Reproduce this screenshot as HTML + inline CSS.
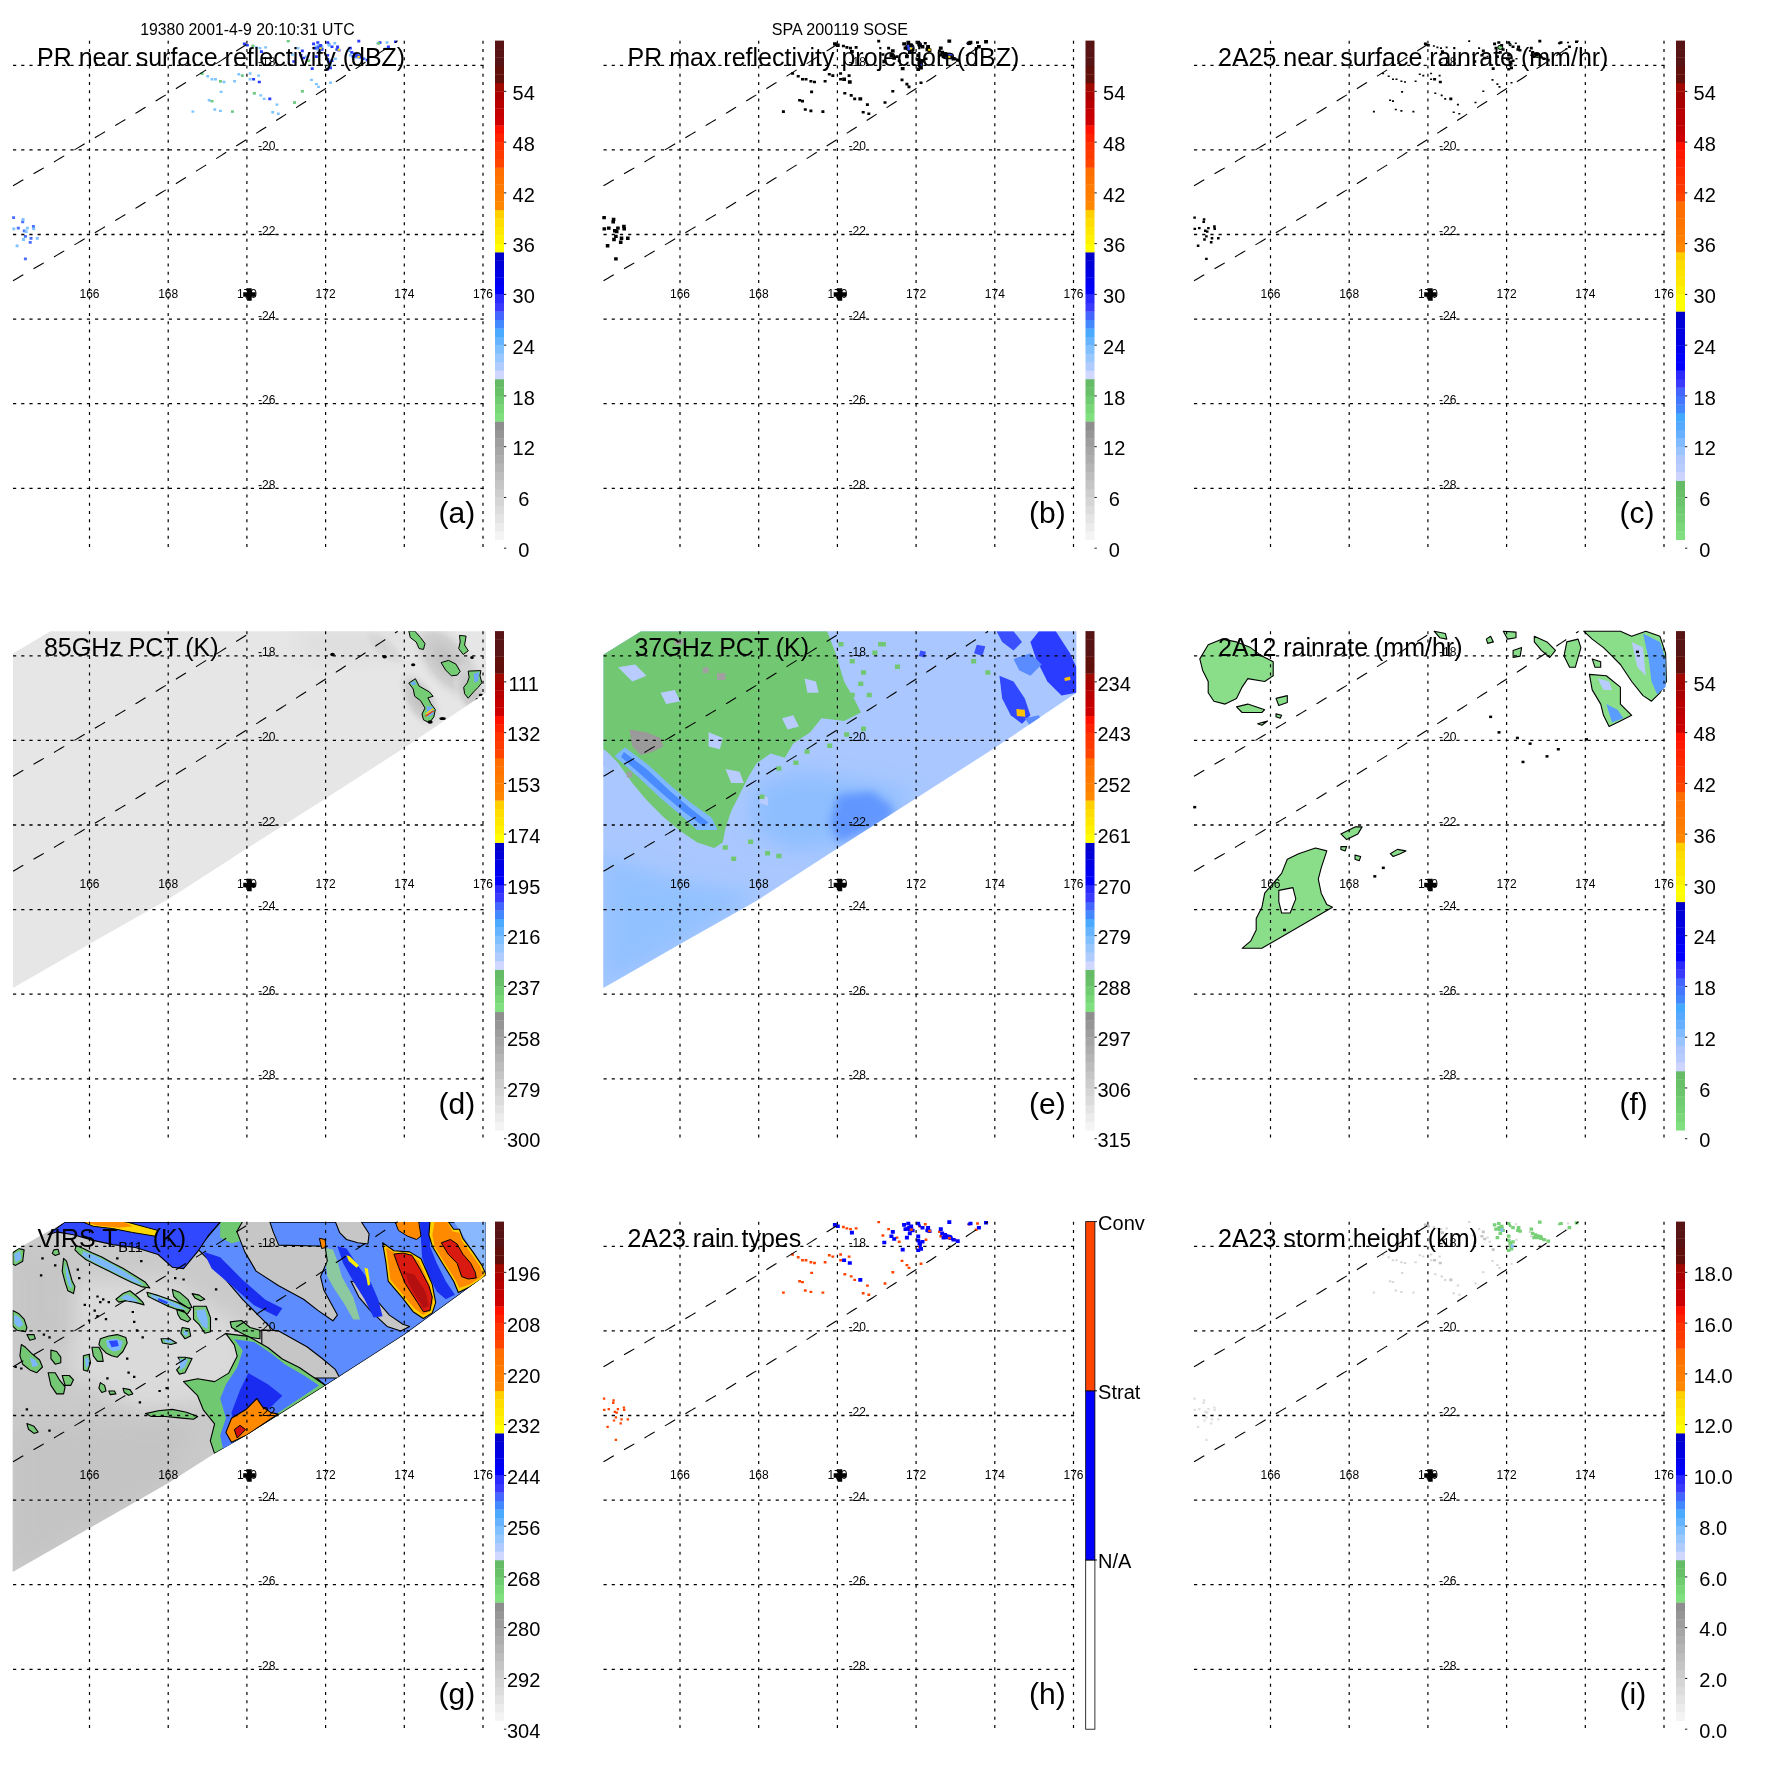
<!DOCTYPE html><html><head><meta charset="utf-8"><style>html,body{margin:0;padding:0;background:#fff;overflow:hidden}svg{display:block;will-change:transform}text{font-family:"Liberation Sans", sans-serif;fill:#000}.gv{stroke:#000;stroke-width:1.2;stroke-dasharray:3 5.25;fill:none}.gh{stroke:#000;stroke-width:1.3;stroke-dasharray:3.2 5.0;fill:none}.sw{stroke:#000;stroke-width:1.1;stroke-dasharray:11.9 11.8;fill:none}</style></head><body>
<svg width="1771" height="1771" viewBox="0 0 1771 1771">
<rect width="1771" height="1771" fill="#fff"/>
<defs><filter id="bl" x="-20%" y="-20%" width="140%" height="140%"><feGaussianBlur stdDeviation="10"/></filter><filter id="bl2" x="-20%" y="-20%" width="140%" height="140%"><feGaussianBlur stdDeviation="4"/></filter></defs>
<text x="247.4" y="35.1" font-size="15.8" text-anchor="middle">19380 2001-4-9 20:10:31 UTC</text>
<text x="839.9" y="34.8" font-size="16.1" text-anchor="middle">SPA 200119 SOSE</text>
<ellipse cx="319.3" cy="47.4" rx="4.2" ry="3.5" fill="#80bfff"/>
<ellipse cx="329.8" cy="63.6" rx="2.1" ry="4.2" fill="#80bfff"/>
<ellipse cx="357.4" cy="55.9" rx="5.6" ry="2.8" fill="#80bfff"/>
<ellipse cx="329.1" cy="44.6" rx="1.8" ry="2.1" fill="#80bfff"/>
<ellipse cx="337.6" cy="48.8" rx="1.8" ry="1.8" fill="#80bfff"/>
<ellipse cx="378.5" cy="43.2" rx="2.1" ry="1.4" fill="#80bfff"/>
<ellipse cx="319.3" cy="47.4" rx="2.3" ry="1.9" fill="#3048ff"/>
<ellipse cx="329.8" cy="63.6" rx="1.2" ry="2.3" fill="#3048ff"/>
<ellipse cx="357.4" cy="55.9" rx="3.1" ry="1.6" fill="#3048ff"/>
<ellipse cx="329.1" cy="44.6" rx="1.0" ry="1.2" fill="#3048ff"/>
<ellipse cx="337.6" cy="48.8" rx="1.0" ry="1.0" fill="#3048ff"/>
<ellipse cx="378.5" cy="43.2" rx="1.2" ry="0.8" fill="#3048ff"/>
<path d="M200.7,72.3h2.8v2.4h-2.8z M206.3,75.1h2.8v2.4h-2.8z M210.6,78.0h2.8v2.4h-2.8z M214.1,78.0h2.8v2.4h-2.8z M219.0,80.1h2.8v2.4h-2.8z M222.6,80.8h2.8v2.4h-2.8z M233.2,80.1h2.8v2.4h-2.8z M237.4,73.0h2.8v2.4h-2.8z M240.9,74.4h2.8v2.4h-2.8z M248.7,72.3h2.8v2.4h-2.8z M248.7,78.0h2.8v2.4h-2.8z M257.2,74.4h2.8v2.4h-2.8z M251.5,44.8h2.8v2.4h-2.8z M255.0,46.2h2.8v2.4h-2.8z M258.6,46.9h2.8v2.4h-2.8z M264.2,46.2h2.8v2.4h-2.8z M286.8,39.9h2.8v2.4h-2.8z M296.7,46.9h2.8v2.4h-2.8z M291.0,53.3h2.8v2.4h-2.8z M305.1,55.4h2.8v2.4h-2.8z M307.3,59.6h2.8v2.4h-2.8z M310.1,78.7h2.8v2.4h-2.8z M315.0,82.9h2.8v2.4h-2.8z M317.1,85.7h2.8v2.4h-2.8z M300.9,90.0h2.8v2.4h-2.8z M329.1,81.5h2.8v2.4h-2.8z M333.4,42.0h2.8v2.4h-2.8z M334.1,57.5h2.8v2.4h-2.8z M252.9,92.1h2.8v2.4h-2.8z M259.3,94.2h2.8v2.4h-2.8z M262.8,97.7h2.8v2.4h-2.8z M275.5,103.4h2.8v2.4h-2.8z M293.1,101.3h2.8v2.4h-2.8z M271.3,111.1h2.8v2.4h-2.8z M276.9,112.6h2.8v2.4h-2.8z M207.7,99.1h2.8v2.4h-2.8z M210.6,99.9h2.8v2.4h-2.8z M213.4,108.3h2.8v2.4h-2.8z M219.0,109.7h2.8v2.4h-2.8z M191.5,110.4h2.8v2.4h-2.8z M231.0,110.4h2.8v2.4h-2.8z M219.7,90.7h2.8v2.4h-2.8z M347.5,49.7h2.8v2.4h-2.8z M360.2,56.8h2.8v2.4h-2.8z M377.1,42.0h2.8v2.4h-2.8z M385.6,41.3h2.8v2.4h-2.8z M384.2,47.6h2.8v2.4h-2.8z M327.7,44.1h2.8v2.4h-2.8z M327.7,64.6h2.8v2.4h-2.8z M348.9,54.0h2.8v2.4h-2.8z M363.0,57.5h2.8v2.4h-2.8z" fill="#7ec4ff"/>
<path d="M242.9,42.6h3.0v2.6h-3.0z M245.8,44.0h3.0v2.6h-3.0z M259.9,50.3h3.0v2.6h-3.0z M252.1,77.9h3.0v2.6h-3.0z M257.8,80.7h3.0v2.6h-3.0z M268.3,97.6h3.0v2.6h-3.0z M292.3,60.2h3.0v2.6h-3.0z M300.8,49.6h3.0v2.6h-3.0z M299.4,53.9h3.0v2.6h-3.0z M302.2,56.7h3.0v2.6h-3.0z M310.7,67.3h3.0v2.6h-3.0z M326.2,41.2h3.0v2.6h-3.0z M330.5,45.4h3.0v2.6h-3.0z M326.2,53.9h3.0v2.6h-3.0z M314.9,55.3h3.0v2.6h-3.0z M335.4,48.2h3.0v2.6h-3.0z M357.3,39.8h3.0v2.6h-3.0z M378.5,41.2h3.0v2.6h-3.0z M386.9,45.4h3.0v2.6h-3.0z M394.0,40.5h3.0v2.6h-3.0z M348.8,46.8h3.0v2.6h-3.0z M353.0,52.5h3.0v2.6h-3.0z M365.7,58.8h3.0v2.6h-3.0z M312.1,42.6h3.0v2.6h-3.0z M316.3,41.2h3.0v2.6h-3.0z M319.2,44.0h3.0v2.6h-3.0z M320.6,48.2h3.0v2.6h-3.0z M317.8,51.1h3.0v2.6h-3.0z M313.5,46.8h3.0v2.6h-3.0z M326.2,58.1h3.0v2.6h-3.0z M327.6,60.9h3.0v2.6h-3.0z M329.0,66.6h3.0v2.6h-3.0z M326.2,68.0h3.0v2.6h-3.0z M330.5,59.5h3.0v2.6h-3.0z M350.2,51.1h3.0v2.6h-3.0z M354.5,53.9h3.0v2.6h-3.0z M358.7,56.0h3.0v2.6h-3.0z M361.5,57.4h3.0v2.6h-3.0z M351.6,55.3h3.0v2.6h-3.0z M336.1,45.4h3.0v2.6h-3.0z M337.5,48.9h3.0v2.6h-3.0z" fill="#2a3cff"/>
<path d="M12.1,216.2h3.0v2.8h-3.0z M21.2,220.5h3.0v2.8h-3.0z M16.8,226.7h3.0v2.8h-3.0z M31.9,225.1h3.0v2.8h-3.0z M22.8,229.4h3.0v2.8h-3.0z M23.9,235.0h3.0v2.8h-3.0z M29.5,236.9h3.0v2.8h-3.0z M28.7,240.9h3.0v2.8h-3.0z M23.9,257.5h3.0v2.8h-3.0z" fill="#4a70ff"/>
<path d="M21.6,218.0h3.0v2.8h-3.0z M12.3,227.5h3.0v2.8h-3.0z M25.9,226.7h3.0v2.8h-3.0z M32.2,227.5h3.0v2.8h-3.0z M24.7,230.2h3.0v2.8h-3.0z M22.0,238.1h3.0v2.8h-3.0z M35.8,236.9h3.0v2.8h-3.0z M15.6,244.4h3.0v2.8h-3.0z" fill="#80c4ff"/>
<path d="M200.7,72.3h2.8v2.4h-2.8z M219.0,80.1h2.8v2.4h-2.8z M240.9,74.4h2.8v2.4h-2.8z M251.5,44.8h2.8v2.4h-2.8z M286.8,39.9h2.8v2.4h-2.8z M307.3,59.6h2.8v2.4h-2.8z M300.9,90.0h2.8v2.4h-2.8z M252.9,92.1h2.8v2.4h-2.8z M293.1,101.3h2.8v2.4h-2.8z M210.6,99.9h2.8v2.4h-2.8z M231.0,110.4h2.8v2.4h-2.8z M377.1,42.0h2.8v2.4h-2.8z M327.7,64.6h2.8v2.4h-2.8z" fill="#70cc70"/>
<rect x="319.3" y="47.4" width="2.5" height="2" fill="#ffdd00"/>
<rect x="357.4" y="55.9" width="2.5" height="2" fill="#ffdd00"/>
<rect x="337.6" y="48.8" width="2.5" height="2" fill="#ffdd00"/>
<g transform="translate(0.00,0.00)">
<line x1="89.50" y1="40.80" x2="89.50" y2="548.50" class="gv"/>
<line x1="168.20" y1="40.80" x2="168.20" y2="548.50" class="gv"/>
<line x1="246.90" y1="40.80" x2="246.90" y2="548.50" class="gv"/>
<line x1="325.60" y1="40.80" x2="325.60" y2="548.50" class="gv"/>
<line x1="404.30" y1="40.80" x2="404.30" y2="548.50" class="gv"/>
<line x1="483.00" y1="40.80" x2="483.00" y2="548.50" class="gv"/>
<line x1="13.00" y1="65.30" x2="486.00" y2="65.30" class="gh"/>
<line x1="13.00" y1="149.90" x2="486.00" y2="149.90" class="gh"/>
<line x1="13.00" y1="234.50" x2="486.00" y2="234.50" class="gh"/>
<line x1="13.00" y1="319.10" x2="486.00" y2="319.10" class="gh"/>
<line x1="13.00" y1="403.70" x2="486.00" y2="403.70" class="gh"/>
<line x1="13.00" y1="488.30" x2="486.00" y2="488.30" class="gh"/>
<path d="M13.00,185.70 L17.00,183.40 L21.00,181.09 L25.00,178.78 L29.00,176.47 L33.00,174.15 L37.00,171.83 L41.00,169.50 L45.00,167.17 L49.00,164.84 L53.00,162.50 L57.00,160.15 L61.00,157.81 L65.00,155.46 L69.00,153.10 L73.00,150.74 L77.00,148.38 L81.00,146.01 L85.00,143.64 L89.00,141.27 L93.00,138.89 L97.00,136.50 L101.00,134.12 L105.00,131.73 L109.00,129.33 L113.00,126.93 L117.00,124.53 L121.00,122.12 L125.00,119.71 L129.00,117.29 L133.00,114.87 L137.00,112.45 L141.00,110.02 L145.00,107.59 L149.00,105.15 L153.00,102.71 L157.00,100.27 L161.00,97.82 L165.00,95.37 L169.00,92.91 L173.00,90.45 L177.00,87.98 L181.00,85.52 L185.00,83.04 L189.00,80.57 L193.00,78.09 L197.00,75.60 L201.00,73.11 L205.00,70.62 L209.00,68.12 L213.00,65.62 L217.00,63.11 L221.00,60.61 L225.00,58.09 L229.00,55.57 L233.00,53.05 L237.00,50.53 L241.00,48.00 L245.00,45.46 L249.00,42.93 L252.35,40.80" class="sw"/>
<path d="M13.00,280.70 L17.00,278.40 L21.00,276.09 L25.00,273.78 L29.00,271.47 L33.00,269.15 L37.00,266.83 L41.00,264.50 L45.00,262.17 L49.00,259.84 L53.00,257.50 L57.00,255.15 L61.00,252.81 L65.00,250.46 L69.00,248.10 L73.00,245.74 L77.00,243.38 L81.00,241.01 L85.00,238.64 L89.00,236.27 L93.00,233.89 L97.00,231.50 L101.00,229.12 L105.00,226.73 L109.00,224.33 L113.00,221.93 L117.00,219.53 L121.00,217.12 L125.00,214.71 L129.00,212.29 L133.00,209.87 L137.00,207.45 L141.00,205.02 L145.00,202.59 L149.00,200.15 L153.00,197.71 L157.00,195.27 L161.00,192.82 L165.00,190.37 L169.00,187.91 L173.00,185.45 L177.00,182.98 L181.00,180.52 L185.00,178.04 L189.00,175.57 L193.00,173.09 L197.00,170.60 L201.00,168.11 L205.00,165.62 L209.00,163.12 L213.00,160.62 L217.00,158.11 L221.00,155.61 L225.00,153.09 L229.00,150.57 L233.00,148.05 L237.00,145.53 L241.00,143.00 L245.00,140.46 L249.00,137.93 L253.00,135.38 L257.00,132.84 L261.00,130.29 L265.00,127.73 L269.00,125.18 L273.00,122.61 L277.00,120.05 L281.00,117.48 L285.00,114.90 L289.00,112.33 L293.00,109.74 L297.00,107.16 L301.00,104.57 L305.00,101.97 L309.00,99.37 L313.00,96.77 L317.00,94.16 L321.00,91.55 L325.00,88.94 L329.00,86.32 L333.00,83.70 L337.00,81.07 L341.00,78.44 L345.00,75.80 L349.00,73.16 L353.00,70.52 L357.00,67.87 L361.00,65.22 L365.00,62.56 L369.00,59.90 L373.00,57.24 L377.00,54.57 L381.00,51.90 L385.00,49.23 L389.00,46.55 L393.00,43.86 L397.00,41.17 L397.55,40.80" class="sw"/>
<text x="89.50" y="297.90" font-size="12.00" text-anchor="middle">166</text>
<text x="168.20" y="297.90" font-size="12.00" text-anchor="middle">168</text>
<text x="246.90" y="297.90" font-size="12.00" text-anchor="middle">170</text>
<text x="325.60" y="297.90" font-size="12.00" text-anchor="middle">172</text>
<text x="404.30" y="297.90" font-size="12.00" text-anchor="middle">174</text>
<text x="483.00" y="297.90" font-size="12.00" text-anchor="middle">176</text>
<text x="258.00" y="65.80" font-size="12.00" text-anchor="start">-18</text>
<text x="258.00" y="150.40" font-size="12.00" text-anchor="start">-20</text>
<text x="258.00" y="235.00" font-size="12.00" text-anchor="start">-22</text>
<text x="258.00" y="319.60" font-size="12.00" text-anchor="start">-24</text>
<text x="258.00" y="404.20" font-size="12.00" text-anchor="start">-26</text>
<text x="258.00" y="488.80" font-size="12.00" text-anchor="start">-28</text>
<path d="M243.2,292.2h12.4v4.6h-12.4z M247.1,288.3h4.6v12.4h-4.6z" fill="#000"/>
<rect x="495.00" y="531.28" width="9.00" height="8.76" fill="#f4f4f4"/>
<rect x="495.00" y="522.82" width="9.00" height="8.76" fill="#ececec"/>
<rect x="495.00" y="514.36" width="9.00" height="8.76" fill="#e4e4e4"/>
<rect x="495.00" y="505.90" width="9.00" height="8.76" fill="#dcdcdc"/>
<rect x="495.00" y="497.44" width="9.00" height="8.76" fill="#d5d5d5"/>
<rect x="495.00" y="488.98" width="9.00" height="8.76" fill="#cdcdcd"/>
<rect x="495.00" y="480.52" width="9.00" height="8.76" fill="#c5c5c5"/>
<rect x="495.00" y="472.06" width="9.00" height="8.76" fill="#bdbdbd"/>
<rect x="495.00" y="463.60" width="9.00" height="8.76" fill="#b5b5b5"/>
<rect x="495.00" y="455.14" width="9.00" height="8.76" fill="#adadad"/>
<rect x="495.00" y="446.68" width="9.00" height="8.76" fill="#a6a6a6"/>
<rect x="495.00" y="438.22" width="9.00" height="8.76" fill="#9e9e9e"/>
<rect x="495.00" y="429.76" width="9.00" height="8.76" fill="#969696"/>
<rect x="495.00" y="421.30" width="9.00" height="8.76" fill="#8e8e8e"/>
<rect x="495.00" y="412.84" width="9.00" height="8.76" fill="#80e080"/>
<rect x="495.00" y="404.38" width="9.00" height="8.76" fill="#78d878"/>
<rect x="495.00" y="395.92" width="9.00" height="8.76" fill="#70cc70"/>
<rect x="495.00" y="387.46" width="9.00" height="8.76" fill="#68c068"/>
<rect x="495.00" y="379.00" width="9.00" height="8.76" fill="#66bb66"/>
<rect x="495.00" y="370.54" width="9.00" height="8.76" fill="#d0d8ff"/>
<rect x="495.00" y="362.08" width="9.00" height="8.76" fill="#b0ccff"/>
<rect x="495.00" y="353.62" width="9.00" height="8.76" fill="#99c8ff"/>
<rect x="495.00" y="345.16" width="9.00" height="8.76" fill="#80c0ff"/>
<rect x="495.00" y="336.70" width="9.00" height="8.76" fill="#66b4ff"/>
<rect x="495.00" y="328.24" width="9.00" height="8.76" fill="#4aaaff"/>
<rect x="495.00" y="319.78" width="9.00" height="8.76" fill="#4488ff"/>
<rect x="495.00" y="311.32" width="9.00" height="8.76" fill="#4466ff"/>
<rect x="495.00" y="302.86" width="9.00" height="8.76" fill="#3a3aff"/>
<rect x="495.00" y="294.40" width="9.00" height="8.76" fill="#2a2aff"/>
<rect x="495.00" y="285.94" width="9.00" height="8.76" fill="#0000ff"/>
<rect x="495.00" y="277.48" width="9.00" height="8.76" fill="#0000f0"/>
<rect x="495.00" y="269.02" width="9.00" height="8.76" fill="#0000e4"/>
<rect x="495.00" y="260.56" width="9.00" height="8.76" fill="#0000d8"/>
<rect x="495.00" y="252.10" width="9.00" height="8.76" fill="#0000cc"/>
<rect x="495.00" y="243.64" width="9.00" height="8.76" fill="#ffff00"/>
<rect x="495.00" y="235.18" width="9.00" height="8.76" fill="#fff200"/>
<rect x="495.00" y="226.72" width="9.00" height="8.76" fill="#ffe800"/>
<rect x="495.00" y="218.26" width="9.00" height="8.76" fill="#ffdd00"/>
<rect x="495.00" y="209.80" width="9.00" height="8.76" fill="#ffd000"/>
<rect x="495.00" y="201.34" width="9.00" height="8.76" fill="#ff8800"/>
<rect x="495.00" y="192.88" width="9.00" height="8.76" fill="#ff8000"/>
<rect x="495.00" y="184.42" width="9.00" height="8.76" fill="#ff7a00"/>
<rect x="495.00" y="175.96" width="9.00" height="8.76" fill="#ff7400"/>
<rect x="495.00" y="167.50" width="9.00" height="8.76" fill="#ff6e00"/>
<rect x="495.00" y="159.04" width="9.00" height="8.76" fill="#ff4400"/>
<rect x="495.00" y="150.58" width="9.00" height="8.76" fill="#ff3a00"/>
<rect x="495.00" y="142.12" width="9.00" height="8.76" fill="#ff3300"/>
<rect x="495.00" y="133.66" width="9.00" height="8.76" fill="#ff2200"/>
<rect x="495.00" y="125.20" width="9.00" height="8.76" fill="#ff1100"/>
<rect x="495.00" y="116.74" width="9.00" height="8.76" fill="#cc0000"/>
<rect x="495.00" y="108.28" width="9.00" height="8.76" fill="#c40000"/>
<rect x="495.00" y="99.82" width="9.00" height="8.76" fill="#b80000"/>
<rect x="495.00" y="91.36" width="9.00" height="8.76" fill="#aa0000"/>
<rect x="495.00" y="82.90" width="9.00" height="8.76" fill="#a00800"/>
<rect x="495.00" y="74.44" width="9.00" height="8.76" fill="#600f0a"/>
<rect x="495.00" y="65.98" width="9.00" height="8.76" fill="#600f0a"/>
<rect x="495.00" y="57.52" width="9.00" height="8.76" fill="#581414"/>
<rect x="495.00" y="49.06" width="9.00" height="8.76" fill="#581414"/>
<rect x="495.00" y="40.60" width="9.00" height="8.76" fill="#581414"/>
<line x1="504" y1="91.36" x2="506.3" y2="91.36" stroke="#000" stroke-width="0.9"/>
<text x="523.70" y="100.06" font-size="20.00" text-anchor="middle">54</text>
<line x1="504" y1="142.12" x2="506.3" y2="142.12" stroke="#000" stroke-width="0.9"/>
<text x="523.70" y="150.82" font-size="20.00" text-anchor="middle">48</text>
<line x1="504" y1="192.88" x2="506.3" y2="192.88" stroke="#000" stroke-width="0.9"/>
<text x="523.70" y="201.58" font-size="20.00" text-anchor="middle">42</text>
<line x1="504" y1="243.64" x2="506.3" y2="243.64" stroke="#000" stroke-width="0.9"/>
<text x="523.70" y="252.34" font-size="20.00" text-anchor="middle">36</text>
<line x1="504" y1="294.40" x2="506.3" y2="294.40" stroke="#000" stroke-width="0.9"/>
<text x="523.70" y="303.10" font-size="20.00" text-anchor="middle">30</text>
<line x1="504" y1="345.16" x2="506.3" y2="345.16" stroke="#000" stroke-width="0.9"/>
<text x="523.70" y="353.86" font-size="20.00" text-anchor="middle">24</text>
<line x1="504" y1="395.92" x2="506.3" y2="395.92" stroke="#000" stroke-width="0.9"/>
<text x="523.70" y="404.62" font-size="20.00" text-anchor="middle">18</text>
<line x1="504" y1="446.68" x2="506.3" y2="446.68" stroke="#000" stroke-width="0.9"/>
<text x="523.70" y="455.38" font-size="20.00" text-anchor="middle">12</text>
<line x1="504" y1="497.44" x2="506.3" y2="497.44" stroke="#000" stroke-width="0.9"/>
<text x="523.70" y="506.14" font-size="20.00" text-anchor="middle">6</text>
<line x1="504" y1="548.20" x2="506.3" y2="548.20" stroke="#000" stroke-width="0.9"/>
<text x="523.70" y="556.90" font-size="20.00" text-anchor="middle">0</text>
<text x="37.00" y="65.70" font-size="25.00" text-anchor="start">PR near surface reflectivity (dBZ)</text>
<text x="438.50" y="523.20" font-size="30.00" text-anchor="start">(a)</text>
</g>
<ellipse cx="909.8" cy="47.4" rx="4.2" ry="3.5" fill="#3048ff" stroke="#000" stroke-width="1.1"/>
<ellipse cx="920.3" cy="63.6" rx="2.1" ry="4.2" fill="#3048ff" stroke="#000" stroke-width="1.1"/>
<ellipse cx="947.9" cy="55.9" rx="5.6" ry="2.8" fill="#3048ff" stroke="#000" stroke-width="1.1"/>
<ellipse cx="919.6" cy="44.6" rx="1.8" ry="2.1" fill="#3048ff" stroke="#000" stroke-width="1.1"/>
<ellipse cx="928.1" cy="48.8" rx="1.8" ry="1.8" fill="#3048ff" stroke="#000" stroke-width="1.1"/>
<ellipse cx="969.0" cy="43.2" rx="2.1" ry="1.4" fill="#3048ff" stroke="#000" stroke-width="1.1"/>
<path d="M833.0,42.2h3.8v3.4h-3.8z M835.9,43.6h3.8v3.4h-3.8z M850.0,49.9h3.8v3.4h-3.8z M842.2,77.5h3.8v3.4h-3.8z M847.9,80.3h3.8v3.4h-3.8z M858.4,97.2h3.8v3.4h-3.8z M882.4,59.8h3.8v3.4h-3.8z M890.9,49.2h3.8v3.4h-3.8z M889.5,53.5h3.8v3.4h-3.8z M892.3,56.3h3.8v3.4h-3.8z M900.8,66.9h3.8v3.4h-3.8z M916.3,40.8h3.8v3.4h-3.8z M920.6,45.0h3.8v3.4h-3.8z M916.3,53.5h3.8v3.4h-3.8z M905.0,54.9h3.8v3.4h-3.8z M925.5,47.8h3.8v3.4h-3.8z M947.4,39.4h3.8v3.4h-3.8z M968.6,40.8h3.8v3.4h-3.8z M977.0,45.0h3.8v3.4h-3.8z M984.1,40.1h3.8v3.4h-3.8z M938.9,46.4h3.8v3.4h-3.8z M943.1,52.1h3.8v3.4h-3.8z M955.8,58.4h3.8v3.4h-3.8z M902.2,42.2h3.8v3.4h-3.8z M906.4,40.8h3.8v3.4h-3.8z M909.3,43.6h3.8v3.4h-3.8z M910.7,47.8h3.8v3.4h-3.8z M907.9,50.7h3.8v3.4h-3.8z M903.6,46.4h3.8v3.4h-3.8z M916.3,57.7h3.8v3.4h-3.8z M917.7,60.5h3.8v3.4h-3.8z M919.1,66.2h3.8v3.4h-3.8z M916.3,67.6h3.8v3.4h-3.8z M920.6,59.1h3.8v3.4h-3.8z M940.3,50.7h3.8v3.4h-3.8z M944.6,53.5h3.8v3.4h-3.8z M948.8,55.6h3.8v3.4h-3.8z M951.6,57.0h3.8v3.4h-3.8z M941.7,54.9h3.8v3.4h-3.8z M926.2,45.0h3.8v3.4h-3.8z M927.6,48.5h3.8v3.4h-3.8z" fill="#000"/>
<path d="M791.1,72.2h3.0v2.6h-3.0z M796.7,75.0h3.0v2.6h-3.0z M801.0,77.9h3.0v2.6h-3.0z M804.5,77.9h3.0v2.6h-3.0z M809.4,80.0h3.0v2.6h-3.0z M813.0,80.7h3.0v2.6h-3.0z M823.6,80.0h3.0v2.6h-3.0z M827.8,72.9h3.0v2.6h-3.0z M831.3,74.3h3.0v2.6h-3.0z M839.1,72.2h3.0v2.6h-3.0z M839.1,77.9h3.0v2.6h-3.0z M847.6,74.3h3.0v2.6h-3.0z M841.9,44.7h3.0v2.6h-3.0z M845.4,46.1h3.0v2.6h-3.0z M849.0,46.8h3.0v2.6h-3.0z M854.6,46.1h3.0v2.6h-3.0z M877.2,39.8h3.0v2.6h-3.0z M887.1,46.8h3.0v2.6h-3.0z M881.4,53.2h3.0v2.6h-3.0z M895.5,55.3h3.0v2.6h-3.0z M897.7,59.5h3.0v2.6h-3.0z M900.5,78.6h3.0v2.6h-3.0z M905.4,82.8h3.0v2.6h-3.0z M907.5,85.6h3.0v2.6h-3.0z M891.3,89.9h3.0v2.6h-3.0z M919.5,81.4h3.0v2.6h-3.0z M923.8,41.9h3.0v2.6h-3.0z M924.5,57.4h3.0v2.6h-3.0z M843.3,92.0h3.0v2.6h-3.0z M849.7,94.1h3.0v2.6h-3.0z M853.2,97.6h3.0v2.6h-3.0z M865.9,103.3h3.0v2.6h-3.0z M883.5,101.2h3.0v2.6h-3.0z M861.7,111.0h3.0v2.6h-3.0z M867.3,112.5h3.0v2.6h-3.0z M798.1,99.0h3.0v2.6h-3.0z M801.0,99.8h3.0v2.6h-3.0z M803.8,108.2h3.0v2.6h-3.0z M809.4,109.6h3.0v2.6h-3.0z M781.9,110.3h3.0v2.6h-3.0z M821.4,110.3h3.0v2.6h-3.0z M810.1,90.6h3.0v2.6h-3.0z M937.9,49.6h3.0v2.6h-3.0z M950.6,56.7h3.0v2.6h-3.0z M967.5,41.9h3.0v2.6h-3.0z M976.0,41.2h3.0v2.6h-3.0z M974.6,47.5h3.0v2.6h-3.0z M918.1,44.0h3.0v2.6h-3.0z M918.1,64.5h3.0v2.6h-3.0z M939.3,53.9h3.0v2.6h-3.0z M953.4,57.4h3.0v2.6h-3.0z" fill="#000"/>
<path d="M602.3,215.9h3.6v3.4h-3.6z M611.8,217.7h3.6v3.4h-3.6z M611.4,220.2h3.6v3.4h-3.6z M602.5,227.2h3.6v3.4h-3.6z M607.0,226.4h3.6v3.4h-3.6z M616.1,226.4h3.6v3.4h-3.6z M622.1,224.8h3.6v3.4h-3.6z M622.4,227.2h3.6v3.4h-3.6z M613.0,229.1h3.6v3.4h-3.6z M614.9,229.9h3.6v3.4h-3.6z M614.1,234.7h3.6v3.4h-3.6z M612.2,237.8h3.6v3.4h-3.6z M619.7,236.6h3.6v3.4h-3.6z M626.0,236.6h3.6v3.4h-3.6z M618.9,240.6h3.6v3.4h-3.6z M605.8,244.1h3.6v3.4h-3.6z M614.1,257.2h3.6v3.4h-3.6z" fill="#000"/>
<rect x="909.8" y="47.4" width="2.5" height="2" fill="#ffdd00"/>
<rect x="947.9" y="55.9" width="2.5" height="2" fill="#ffdd00"/>
<rect x="928.1" y="48.8" width="2.5" height="2" fill="#ffdd00"/>
<g transform="translate(590.50,0.00)">
<line x1="89.50" y1="40.80" x2="89.50" y2="548.50" class="gv"/>
<line x1="168.20" y1="40.80" x2="168.20" y2="548.50" class="gv"/>
<line x1="246.90" y1="40.80" x2="246.90" y2="548.50" class="gv"/>
<line x1="325.60" y1="40.80" x2="325.60" y2="548.50" class="gv"/>
<line x1="404.30" y1="40.80" x2="404.30" y2="548.50" class="gv"/>
<line x1="483.00" y1="40.80" x2="483.00" y2="548.50" class="gv"/>
<line x1="13.00" y1="65.30" x2="486.00" y2="65.30" class="gh"/>
<line x1="13.00" y1="149.90" x2="486.00" y2="149.90" class="gh"/>
<line x1="13.00" y1="234.50" x2="486.00" y2="234.50" class="gh"/>
<line x1="13.00" y1="319.10" x2="486.00" y2="319.10" class="gh"/>
<line x1="13.00" y1="403.70" x2="486.00" y2="403.70" class="gh"/>
<line x1="13.00" y1="488.30" x2="486.00" y2="488.30" class="gh"/>
<path d="M13.00,185.70 L17.00,183.40 L21.00,181.09 L25.00,178.78 L29.00,176.47 L33.00,174.15 L37.00,171.83 L41.00,169.50 L45.00,167.17 L49.00,164.84 L53.00,162.50 L57.00,160.15 L61.00,157.81 L65.00,155.46 L69.00,153.10 L73.00,150.74 L77.00,148.38 L81.00,146.01 L85.00,143.64 L89.00,141.27 L93.00,138.89 L97.00,136.50 L101.00,134.12 L105.00,131.73 L109.00,129.33 L113.00,126.93 L117.00,124.53 L121.00,122.12 L125.00,119.71 L129.00,117.29 L133.00,114.87 L137.00,112.45 L141.00,110.02 L145.00,107.59 L149.00,105.15 L153.00,102.71 L157.00,100.27 L161.00,97.82 L165.00,95.37 L169.00,92.91 L173.00,90.45 L177.00,87.98 L181.00,85.52 L185.00,83.04 L189.00,80.57 L193.00,78.09 L197.00,75.60 L201.00,73.11 L205.00,70.62 L209.00,68.12 L213.00,65.62 L217.00,63.11 L221.00,60.61 L225.00,58.09 L229.00,55.57 L233.00,53.05 L237.00,50.53 L241.00,48.00 L245.00,45.46 L249.00,42.93 L252.35,40.80" class="sw"/>
<path d="M13.00,280.70 L17.00,278.40 L21.00,276.09 L25.00,273.78 L29.00,271.47 L33.00,269.15 L37.00,266.83 L41.00,264.50 L45.00,262.17 L49.00,259.84 L53.00,257.50 L57.00,255.15 L61.00,252.81 L65.00,250.46 L69.00,248.10 L73.00,245.74 L77.00,243.38 L81.00,241.01 L85.00,238.64 L89.00,236.27 L93.00,233.89 L97.00,231.50 L101.00,229.12 L105.00,226.73 L109.00,224.33 L113.00,221.93 L117.00,219.53 L121.00,217.12 L125.00,214.71 L129.00,212.29 L133.00,209.87 L137.00,207.45 L141.00,205.02 L145.00,202.59 L149.00,200.15 L153.00,197.71 L157.00,195.27 L161.00,192.82 L165.00,190.37 L169.00,187.91 L173.00,185.45 L177.00,182.98 L181.00,180.52 L185.00,178.04 L189.00,175.57 L193.00,173.09 L197.00,170.60 L201.00,168.11 L205.00,165.62 L209.00,163.12 L213.00,160.62 L217.00,158.11 L221.00,155.61 L225.00,153.09 L229.00,150.57 L233.00,148.05 L237.00,145.53 L241.00,143.00 L245.00,140.46 L249.00,137.93 L253.00,135.38 L257.00,132.84 L261.00,130.29 L265.00,127.73 L269.00,125.18 L273.00,122.61 L277.00,120.05 L281.00,117.48 L285.00,114.90 L289.00,112.33 L293.00,109.74 L297.00,107.16 L301.00,104.57 L305.00,101.97 L309.00,99.37 L313.00,96.77 L317.00,94.16 L321.00,91.55 L325.00,88.94 L329.00,86.32 L333.00,83.70 L337.00,81.07 L341.00,78.44 L345.00,75.80 L349.00,73.16 L353.00,70.52 L357.00,67.87 L361.00,65.22 L365.00,62.56 L369.00,59.90 L373.00,57.24 L377.00,54.57 L381.00,51.90 L385.00,49.23 L389.00,46.55 L393.00,43.86 L397.00,41.17 L397.55,40.80" class="sw"/>
<text x="89.50" y="297.90" font-size="12.00" text-anchor="middle">166</text>
<text x="168.20" y="297.90" font-size="12.00" text-anchor="middle">168</text>
<text x="246.90" y="297.90" font-size="12.00" text-anchor="middle">170</text>
<text x="325.60" y="297.90" font-size="12.00" text-anchor="middle">172</text>
<text x="404.30" y="297.90" font-size="12.00" text-anchor="middle">174</text>
<text x="483.00" y="297.90" font-size="12.00" text-anchor="middle">176</text>
<text x="258.00" y="65.80" font-size="12.00" text-anchor="start">-18</text>
<text x="258.00" y="150.40" font-size="12.00" text-anchor="start">-20</text>
<text x="258.00" y="235.00" font-size="12.00" text-anchor="start">-22</text>
<text x="258.00" y="319.60" font-size="12.00" text-anchor="start">-24</text>
<text x="258.00" y="404.20" font-size="12.00" text-anchor="start">-26</text>
<text x="258.00" y="488.80" font-size="12.00" text-anchor="start">-28</text>
<path d="M243.2,292.2h12.4v4.6h-12.4z M247.1,288.3h4.6v12.4h-4.6z" fill="#000"/>
<rect x="495.00" y="531.28" width="9.00" height="8.76" fill="#f4f4f4"/>
<rect x="495.00" y="522.82" width="9.00" height="8.76" fill="#ececec"/>
<rect x="495.00" y="514.36" width="9.00" height="8.76" fill="#e4e4e4"/>
<rect x="495.00" y="505.90" width="9.00" height="8.76" fill="#dcdcdc"/>
<rect x="495.00" y="497.44" width="9.00" height="8.76" fill="#d5d5d5"/>
<rect x="495.00" y="488.98" width="9.00" height="8.76" fill="#cdcdcd"/>
<rect x="495.00" y="480.52" width="9.00" height="8.76" fill="#c5c5c5"/>
<rect x="495.00" y="472.06" width="9.00" height="8.76" fill="#bdbdbd"/>
<rect x="495.00" y="463.60" width="9.00" height="8.76" fill="#b5b5b5"/>
<rect x="495.00" y="455.14" width="9.00" height="8.76" fill="#adadad"/>
<rect x="495.00" y="446.68" width="9.00" height="8.76" fill="#a6a6a6"/>
<rect x="495.00" y="438.22" width="9.00" height="8.76" fill="#9e9e9e"/>
<rect x="495.00" y="429.76" width="9.00" height="8.76" fill="#969696"/>
<rect x="495.00" y="421.30" width="9.00" height="8.76" fill="#8e8e8e"/>
<rect x="495.00" y="412.84" width="9.00" height="8.76" fill="#80e080"/>
<rect x="495.00" y="404.38" width="9.00" height="8.76" fill="#78d878"/>
<rect x="495.00" y="395.92" width="9.00" height="8.76" fill="#70cc70"/>
<rect x="495.00" y="387.46" width="9.00" height="8.76" fill="#68c068"/>
<rect x="495.00" y="379.00" width="9.00" height="8.76" fill="#66bb66"/>
<rect x="495.00" y="370.54" width="9.00" height="8.76" fill="#d0d8ff"/>
<rect x="495.00" y="362.08" width="9.00" height="8.76" fill="#b0ccff"/>
<rect x="495.00" y="353.62" width="9.00" height="8.76" fill="#99c8ff"/>
<rect x="495.00" y="345.16" width="9.00" height="8.76" fill="#80c0ff"/>
<rect x="495.00" y="336.70" width="9.00" height="8.76" fill="#66b4ff"/>
<rect x="495.00" y="328.24" width="9.00" height="8.76" fill="#4aaaff"/>
<rect x="495.00" y="319.78" width="9.00" height="8.76" fill="#4488ff"/>
<rect x="495.00" y="311.32" width="9.00" height="8.76" fill="#4466ff"/>
<rect x="495.00" y="302.86" width="9.00" height="8.76" fill="#3a3aff"/>
<rect x="495.00" y="294.40" width="9.00" height="8.76" fill="#2a2aff"/>
<rect x="495.00" y="285.94" width="9.00" height="8.76" fill="#0000ff"/>
<rect x="495.00" y="277.48" width="9.00" height="8.76" fill="#0000f0"/>
<rect x="495.00" y="269.02" width="9.00" height="8.76" fill="#0000e4"/>
<rect x="495.00" y="260.56" width="9.00" height="8.76" fill="#0000d8"/>
<rect x="495.00" y="252.10" width="9.00" height="8.76" fill="#0000cc"/>
<rect x="495.00" y="243.64" width="9.00" height="8.76" fill="#ffff00"/>
<rect x="495.00" y="235.18" width="9.00" height="8.76" fill="#fff200"/>
<rect x="495.00" y="226.72" width="9.00" height="8.76" fill="#ffe800"/>
<rect x="495.00" y="218.26" width="9.00" height="8.76" fill="#ffdd00"/>
<rect x="495.00" y="209.80" width="9.00" height="8.76" fill="#ffd000"/>
<rect x="495.00" y="201.34" width="9.00" height="8.76" fill="#ff8800"/>
<rect x="495.00" y="192.88" width="9.00" height="8.76" fill="#ff8000"/>
<rect x="495.00" y="184.42" width="9.00" height="8.76" fill="#ff7a00"/>
<rect x="495.00" y="175.96" width="9.00" height="8.76" fill="#ff7400"/>
<rect x="495.00" y="167.50" width="9.00" height="8.76" fill="#ff6e00"/>
<rect x="495.00" y="159.04" width="9.00" height="8.76" fill="#ff4400"/>
<rect x="495.00" y="150.58" width="9.00" height="8.76" fill="#ff3a00"/>
<rect x="495.00" y="142.12" width="9.00" height="8.76" fill="#ff3300"/>
<rect x="495.00" y="133.66" width="9.00" height="8.76" fill="#ff2200"/>
<rect x="495.00" y="125.20" width="9.00" height="8.76" fill="#ff1100"/>
<rect x="495.00" y="116.74" width="9.00" height="8.76" fill="#cc0000"/>
<rect x="495.00" y="108.28" width="9.00" height="8.76" fill="#c40000"/>
<rect x="495.00" y="99.82" width="9.00" height="8.76" fill="#b80000"/>
<rect x="495.00" y="91.36" width="9.00" height="8.76" fill="#aa0000"/>
<rect x="495.00" y="82.90" width="9.00" height="8.76" fill="#a00800"/>
<rect x="495.00" y="74.44" width="9.00" height="8.76" fill="#600f0a"/>
<rect x="495.00" y="65.98" width="9.00" height="8.76" fill="#600f0a"/>
<rect x="495.00" y="57.52" width="9.00" height="8.76" fill="#581414"/>
<rect x="495.00" y="49.06" width="9.00" height="8.76" fill="#581414"/>
<rect x="495.00" y="40.60" width="9.00" height="8.76" fill="#581414"/>
<line x1="504" y1="91.36" x2="506.3" y2="91.36" stroke="#000" stroke-width="0.9"/>
<text x="523.70" y="100.06" font-size="20.00" text-anchor="middle">54</text>
<line x1="504" y1="142.12" x2="506.3" y2="142.12" stroke="#000" stroke-width="0.9"/>
<text x="523.70" y="150.82" font-size="20.00" text-anchor="middle">48</text>
<line x1="504" y1="192.88" x2="506.3" y2="192.88" stroke="#000" stroke-width="0.9"/>
<text x="523.70" y="201.58" font-size="20.00" text-anchor="middle">42</text>
<line x1="504" y1="243.64" x2="506.3" y2="243.64" stroke="#000" stroke-width="0.9"/>
<text x="523.70" y="252.34" font-size="20.00" text-anchor="middle">36</text>
<line x1="504" y1="294.40" x2="506.3" y2="294.40" stroke="#000" stroke-width="0.9"/>
<text x="523.70" y="303.10" font-size="20.00" text-anchor="middle">30</text>
<line x1="504" y1="345.16" x2="506.3" y2="345.16" stroke="#000" stroke-width="0.9"/>
<text x="523.70" y="353.86" font-size="20.00" text-anchor="middle">24</text>
<line x1="504" y1="395.92" x2="506.3" y2="395.92" stroke="#000" stroke-width="0.9"/>
<text x="523.70" y="404.62" font-size="20.00" text-anchor="middle">18</text>
<line x1="504" y1="446.68" x2="506.3" y2="446.68" stroke="#000" stroke-width="0.9"/>
<text x="523.70" y="455.38" font-size="20.00" text-anchor="middle">12</text>
<line x1="504" y1="497.44" x2="506.3" y2="497.44" stroke="#000" stroke-width="0.9"/>
<text x="523.70" y="506.14" font-size="20.00" text-anchor="middle">6</text>
<line x1="504" y1="548.20" x2="506.3" y2="548.20" stroke="#000" stroke-width="0.9"/>
<text x="523.70" y="556.90" font-size="20.00" text-anchor="middle">0</text>
<text x="37.00" y="65.70" font-size="25.00" text-anchor="start">PR max reflectivity projection (dBZ)</text>
<text x="438.50" y="523.20" font-size="30.00" text-anchor="start">(b)</text>
</g>
<ellipse cx="1500.3" cy="47.4" rx="2.5" ry="2.1" fill="#80e080" stroke="#000" stroke-width="1.0"/>
<ellipse cx="1510.8" cy="63.6" rx="1.3" ry="2.5" fill="#80e080" stroke="#000" stroke-width="1.0"/>
<ellipse cx="1538.4" cy="55.9" rx="3.4" ry="1.7" fill="#80e080" stroke="#000" stroke-width="1.0"/>
<ellipse cx="1510.1" cy="44.6" rx="1.1" ry="1.3" fill="#80e080" stroke="#000" stroke-width="1.0"/>
<ellipse cx="1518.6" cy="48.8" rx="1.1" ry="1.1" fill="#80e080" stroke="#000" stroke-width="1.0"/>
<ellipse cx="1559.5" cy="43.2" rx="1.3" ry="0.8" fill="#80e080" stroke="#000" stroke-width="1.0"/>
<path d="M1423.9,42.6h3.0v2.6h-3.0z M1426.8,44.0h3.0v2.6h-3.0z M1440.9,50.3h3.0v2.6h-3.0z M1433.1,77.9h3.0v2.6h-3.0z M1438.8,80.7h3.0v2.6h-3.0z M1449.3,97.6h3.0v2.6h-3.0z M1473.3,60.2h3.0v2.6h-3.0z M1481.8,49.6h3.0v2.6h-3.0z M1480.4,53.9h3.0v2.6h-3.0z M1483.2,56.7h3.0v2.6h-3.0z M1491.7,67.3h3.0v2.6h-3.0z M1507.2,41.2h3.0v2.6h-3.0z M1511.5,45.4h3.0v2.6h-3.0z M1507.2,53.9h3.0v2.6h-3.0z M1495.9,55.3h3.0v2.6h-3.0z M1516.4,48.2h3.0v2.6h-3.0z M1538.3,39.8h3.0v2.6h-3.0z M1559.5,41.2h3.0v2.6h-3.0z M1567.9,45.4h3.0v2.6h-3.0z M1575.0,40.5h3.0v2.6h-3.0z M1529.8,46.8h3.0v2.6h-3.0z M1534.0,52.5h3.0v2.6h-3.0z M1546.7,58.8h3.0v2.6h-3.0z M1493.1,42.6h3.0v2.6h-3.0z M1497.3,41.2h3.0v2.6h-3.0z M1500.2,44.0h3.0v2.6h-3.0z M1501.6,48.2h3.0v2.6h-3.0z M1498.8,51.1h3.0v2.6h-3.0z M1494.5,46.8h3.0v2.6h-3.0z M1507.2,58.1h3.0v2.6h-3.0z M1508.6,60.9h3.0v2.6h-3.0z M1510.0,66.6h3.0v2.6h-3.0z M1507.2,68.0h3.0v2.6h-3.0z M1511.5,59.5h3.0v2.6h-3.0z M1531.2,51.1h3.0v2.6h-3.0z M1535.5,53.9h3.0v2.6h-3.0z M1539.7,56.0h3.0v2.6h-3.0z M1542.5,57.4h3.0v2.6h-3.0z M1532.6,55.3h3.0v2.6h-3.0z M1517.1,45.4h3.0v2.6h-3.0z M1518.5,48.9h3.0v2.6h-3.0z" fill="#000"/>
<path d="M1382.1,72.7h2.0v1.6h-2.0z M1387.7,75.5h2.0v1.6h-2.0z M1392.0,78.4h2.0v1.6h-2.0z M1395.5,78.4h2.0v1.6h-2.0z M1400.4,80.5h2.0v1.6h-2.0z M1404.0,81.2h2.0v1.6h-2.0z M1414.6,80.5h2.0v1.6h-2.0z M1418.8,73.4h2.0v1.6h-2.0z M1422.3,74.8h2.0v1.6h-2.0z M1430.1,72.7h2.0v1.6h-2.0z M1430.1,78.4h2.0v1.6h-2.0z M1438.6,74.8h2.0v1.6h-2.0z M1432.9,45.2h2.0v1.6h-2.0z M1436.4,46.6h2.0v1.6h-2.0z M1440.0,47.3h2.0v1.6h-2.0z M1445.6,46.6h2.0v1.6h-2.0z M1468.2,40.3h2.0v1.6h-2.0z M1478.1,47.3h2.0v1.6h-2.0z M1472.4,53.7h2.0v1.6h-2.0z M1486.5,55.8h2.0v1.6h-2.0z M1488.7,60.0h2.0v1.6h-2.0z M1491.5,79.1h2.0v1.6h-2.0z M1496.4,83.3h2.0v1.6h-2.0z M1498.5,86.1h2.0v1.6h-2.0z M1482.3,90.4h2.0v1.6h-2.0z M1510.5,81.9h2.0v1.6h-2.0z M1514.8,42.4h2.0v1.6h-2.0z M1515.5,57.9h2.0v1.6h-2.0z M1434.3,92.5h2.0v1.6h-2.0z M1440.7,94.6h2.0v1.6h-2.0z M1444.2,98.1h2.0v1.6h-2.0z M1456.9,103.8h2.0v1.6h-2.0z M1474.5,101.7h2.0v1.6h-2.0z M1452.7,111.5h2.0v1.6h-2.0z M1458.3,113.0h2.0v1.6h-2.0z M1389.1,99.5h2.0v1.6h-2.0z M1392.0,100.3h2.0v1.6h-2.0z M1394.8,108.7h2.0v1.6h-2.0z M1400.4,110.1h2.0v1.6h-2.0z M1372.9,110.8h2.0v1.6h-2.0z M1412.4,110.8h2.0v1.6h-2.0z M1401.1,91.1h2.0v1.6h-2.0z M1528.9,50.1h2.0v1.6h-2.0z M1541.6,57.2h2.0v1.6h-2.0z M1558.5,42.4h2.0v1.6h-2.0z M1567.0,41.7h2.0v1.6h-2.0z M1565.6,48.0h2.0v1.6h-2.0z M1509.1,44.5h2.0v1.6h-2.0z M1509.1,65.0h2.0v1.6h-2.0z M1530.3,54.4h2.0v1.6h-2.0z M1544.4,57.9h2.0v1.6h-2.0z" fill="#000"/>
<path d="M1193.3,216.4h2.6v2.4h-2.6z M1202.8,218.2h2.6v2.4h-2.6z M1202.4,220.7h2.6v2.4h-2.6z M1193.5,227.7h2.6v2.4h-2.6z M1198.0,226.9h2.6v2.4h-2.6z M1207.1,226.9h2.6v2.4h-2.6z M1213.1,225.3h2.6v2.4h-2.6z M1213.4,227.7h2.6v2.4h-2.6z M1204.0,229.6h2.6v2.4h-2.6z M1205.9,230.4h2.6v2.4h-2.6z M1205.1,235.2h2.6v2.4h-2.6z M1203.2,238.3h2.6v2.4h-2.6z M1210.7,237.1h2.6v2.4h-2.6z M1217.0,237.1h2.6v2.4h-2.6z M1209.9,241.1h2.6v2.4h-2.6z M1196.8,244.6h2.6v2.4h-2.6z M1205.1,257.7h2.6v2.4h-2.6z" fill="#000"/>
<g transform="translate(1181.00,0.00)">
<line x1="89.50" y1="40.80" x2="89.50" y2="548.50" class="gv"/>
<line x1="168.20" y1="40.80" x2="168.20" y2="548.50" class="gv"/>
<line x1="246.90" y1="40.80" x2="246.90" y2="548.50" class="gv"/>
<line x1="325.60" y1="40.80" x2="325.60" y2="548.50" class="gv"/>
<line x1="404.30" y1="40.80" x2="404.30" y2="548.50" class="gv"/>
<line x1="483.00" y1="40.80" x2="483.00" y2="548.50" class="gv"/>
<line x1="13.00" y1="65.30" x2="486.00" y2="65.30" class="gh"/>
<line x1="13.00" y1="149.90" x2="486.00" y2="149.90" class="gh"/>
<line x1="13.00" y1="234.50" x2="486.00" y2="234.50" class="gh"/>
<line x1="13.00" y1="319.10" x2="486.00" y2="319.10" class="gh"/>
<line x1="13.00" y1="403.70" x2="486.00" y2="403.70" class="gh"/>
<line x1="13.00" y1="488.30" x2="486.00" y2="488.30" class="gh"/>
<path d="M13.00,185.70 L17.00,183.40 L21.00,181.09 L25.00,178.78 L29.00,176.47 L33.00,174.15 L37.00,171.83 L41.00,169.50 L45.00,167.17 L49.00,164.84 L53.00,162.50 L57.00,160.15 L61.00,157.81 L65.00,155.46 L69.00,153.10 L73.00,150.74 L77.00,148.38 L81.00,146.01 L85.00,143.64 L89.00,141.27 L93.00,138.89 L97.00,136.50 L101.00,134.12 L105.00,131.73 L109.00,129.33 L113.00,126.93 L117.00,124.53 L121.00,122.12 L125.00,119.71 L129.00,117.29 L133.00,114.87 L137.00,112.45 L141.00,110.02 L145.00,107.59 L149.00,105.15 L153.00,102.71 L157.00,100.27 L161.00,97.82 L165.00,95.37 L169.00,92.91 L173.00,90.45 L177.00,87.98 L181.00,85.52 L185.00,83.04 L189.00,80.57 L193.00,78.09 L197.00,75.60 L201.00,73.11 L205.00,70.62 L209.00,68.12 L213.00,65.62 L217.00,63.11 L221.00,60.61 L225.00,58.09 L229.00,55.57 L233.00,53.05 L237.00,50.53 L241.00,48.00 L245.00,45.46 L249.00,42.93 L252.35,40.80" class="sw"/>
<path d="M13.00,280.70 L17.00,278.40 L21.00,276.09 L25.00,273.78 L29.00,271.47 L33.00,269.15 L37.00,266.83 L41.00,264.50 L45.00,262.17 L49.00,259.84 L53.00,257.50 L57.00,255.15 L61.00,252.81 L65.00,250.46 L69.00,248.10 L73.00,245.74 L77.00,243.38 L81.00,241.01 L85.00,238.64 L89.00,236.27 L93.00,233.89 L97.00,231.50 L101.00,229.12 L105.00,226.73 L109.00,224.33 L113.00,221.93 L117.00,219.53 L121.00,217.12 L125.00,214.71 L129.00,212.29 L133.00,209.87 L137.00,207.45 L141.00,205.02 L145.00,202.59 L149.00,200.15 L153.00,197.71 L157.00,195.27 L161.00,192.82 L165.00,190.37 L169.00,187.91 L173.00,185.45 L177.00,182.98 L181.00,180.52 L185.00,178.04 L189.00,175.57 L193.00,173.09 L197.00,170.60 L201.00,168.11 L205.00,165.62 L209.00,163.12 L213.00,160.62 L217.00,158.11 L221.00,155.61 L225.00,153.09 L229.00,150.57 L233.00,148.05 L237.00,145.53 L241.00,143.00 L245.00,140.46 L249.00,137.93 L253.00,135.38 L257.00,132.84 L261.00,130.29 L265.00,127.73 L269.00,125.18 L273.00,122.61 L277.00,120.05 L281.00,117.48 L285.00,114.90 L289.00,112.33 L293.00,109.74 L297.00,107.16 L301.00,104.57 L305.00,101.97 L309.00,99.37 L313.00,96.77 L317.00,94.16 L321.00,91.55 L325.00,88.94 L329.00,86.32 L333.00,83.70 L337.00,81.07 L341.00,78.44 L345.00,75.80 L349.00,73.16 L353.00,70.52 L357.00,67.87 L361.00,65.22 L365.00,62.56 L369.00,59.90 L373.00,57.24 L377.00,54.57 L381.00,51.90 L385.00,49.23 L389.00,46.55 L393.00,43.86 L397.00,41.17 L397.55,40.80" class="sw"/>
<text x="89.50" y="297.90" font-size="12.00" text-anchor="middle">166</text>
<text x="168.20" y="297.90" font-size="12.00" text-anchor="middle">168</text>
<text x="246.90" y="297.90" font-size="12.00" text-anchor="middle">170</text>
<text x="325.60" y="297.90" font-size="12.00" text-anchor="middle">172</text>
<text x="404.30" y="297.90" font-size="12.00" text-anchor="middle">174</text>
<text x="483.00" y="297.90" font-size="12.00" text-anchor="middle">176</text>
<text x="258.00" y="65.80" font-size="12.00" text-anchor="start">-18</text>
<text x="258.00" y="150.40" font-size="12.00" text-anchor="start">-20</text>
<text x="258.00" y="235.00" font-size="12.00" text-anchor="start">-22</text>
<text x="258.00" y="319.60" font-size="12.00" text-anchor="start">-24</text>
<text x="258.00" y="404.20" font-size="12.00" text-anchor="start">-26</text>
<text x="258.00" y="488.80" font-size="12.00" text-anchor="start">-28</text>
<path d="M243.2,292.2h12.4v4.6h-12.4z M247.1,288.3h4.6v12.4h-4.6z" fill="#000"/>
<rect x="495.00" y="531.28" width="9.00" height="8.76" fill="#80e080"/>
<rect x="495.00" y="522.82" width="9.00" height="8.76" fill="#7ad87a"/>
<rect x="495.00" y="514.36" width="9.00" height="8.76" fill="#74d074"/>
<rect x="495.00" y="505.90" width="9.00" height="8.76" fill="#70cc70"/>
<rect x="495.00" y="497.44" width="9.00" height="8.76" fill="#6cc46c"/>
<rect x="495.00" y="488.98" width="9.00" height="8.76" fill="#68c068"/>
<rect x="495.00" y="480.52" width="9.00" height="8.76" fill="#66bb66"/>
<rect x="495.00" y="472.06" width="9.00" height="8.76" fill="#ccd4ff"/>
<rect x="495.00" y="463.60" width="9.00" height="8.76" fill="#b8ccff"/>
<rect x="495.00" y="455.14" width="9.00" height="8.76" fill="#b0c8ff"/>
<rect x="495.00" y="446.68" width="9.00" height="8.76" fill="#99c4ff"/>
<rect x="495.00" y="438.22" width="9.00" height="8.76" fill="#80bbff"/>
<rect x="495.00" y="429.76" width="9.00" height="8.76" fill="#66b0ff"/>
<rect x="495.00" y="421.30" width="9.00" height="8.76" fill="#55aaff"/>
<rect x="495.00" y="412.84" width="9.00" height="8.76" fill="#44aaff"/>
<rect x="495.00" y="404.38" width="9.00" height="8.76" fill="#4488ff"/>
<rect x="495.00" y="395.92" width="9.00" height="8.76" fill="#4477ff"/>
<rect x="495.00" y="387.46" width="9.00" height="8.76" fill="#4466ff"/>
<rect x="495.00" y="379.00" width="9.00" height="8.76" fill="#3a3aff"/>
<rect x="495.00" y="370.54" width="9.00" height="8.76" fill="#2a2aff"/>
<rect x="495.00" y="362.08" width="9.00" height="8.76" fill="#0000ff"/>
<rect x="495.00" y="353.62" width="9.00" height="8.76" fill="#0000ff"/>
<rect x="495.00" y="345.16" width="9.00" height="8.76" fill="#0000f0"/>
<rect x="495.00" y="336.70" width="9.00" height="8.76" fill="#0000e4"/>
<rect x="495.00" y="328.24" width="9.00" height="8.76" fill="#0000e0"/>
<rect x="495.00" y="319.78" width="9.00" height="8.76" fill="#0000d8"/>
<rect x="495.00" y="311.32" width="9.00" height="8.76" fill="#0000cc"/>
<rect x="495.00" y="302.86" width="9.00" height="8.76" fill="#ffff00"/>
<rect x="495.00" y="294.40" width="9.00" height="8.76" fill="#ffff00"/>
<rect x="495.00" y="285.94" width="9.00" height="8.76" fill="#fff200"/>
<rect x="495.00" y="277.48" width="9.00" height="8.76" fill="#ffe800"/>
<rect x="495.00" y="269.02" width="9.00" height="8.76" fill="#ffe400"/>
<rect x="495.00" y="260.56" width="9.00" height="8.76" fill="#ffdd00"/>
<rect x="495.00" y="252.10" width="9.00" height="8.76" fill="#ffd000"/>
<rect x="495.00" y="243.64" width="9.00" height="8.76" fill="#ff8800"/>
<rect x="495.00" y="235.18" width="9.00" height="8.76" fill="#ff8000"/>
<rect x="495.00" y="226.72" width="9.00" height="8.76" fill="#ff7a00"/>
<rect x="495.00" y="218.26" width="9.00" height="8.76" fill="#ff7400"/>
<rect x="495.00" y="209.80" width="9.00" height="8.76" fill="#ff7000"/>
<rect x="495.00" y="201.34" width="9.00" height="8.76" fill="#ff6e00"/>
<rect x="495.00" y="192.88" width="9.00" height="8.76" fill="#ff4400"/>
<rect x="495.00" y="184.42" width="9.00" height="8.76" fill="#ff3a00"/>
<rect x="495.00" y="175.96" width="9.00" height="8.76" fill="#ff3300"/>
<rect x="495.00" y="167.50" width="9.00" height="8.76" fill="#ff2a00"/>
<rect x="495.00" y="159.04" width="9.00" height="8.76" fill="#ff2200"/>
<rect x="495.00" y="150.58" width="9.00" height="8.76" fill="#ff1800"/>
<rect x="495.00" y="142.12" width="9.00" height="8.76" fill="#ff1100"/>
<rect x="495.00" y="133.66" width="9.00" height="8.76" fill="#cc0000"/>
<rect x="495.00" y="125.20" width="9.00" height="8.76" fill="#c40000"/>
<rect x="495.00" y="116.74" width="9.00" height="8.76" fill="#bc0000"/>
<rect x="495.00" y="108.28" width="9.00" height="8.76" fill="#b80000"/>
<rect x="495.00" y="99.82" width="9.00" height="8.76" fill="#aa0000"/>
<rect x="495.00" y="91.36" width="9.00" height="8.76" fill="#a40400"/>
<rect x="495.00" y="82.90" width="9.00" height="8.76" fill="#a00800"/>
<rect x="495.00" y="74.44" width="9.00" height="8.76" fill="#600f0a"/>
<rect x="495.00" y="65.98" width="9.00" height="8.76" fill="#600f0a"/>
<rect x="495.00" y="57.52" width="9.00" height="8.76" fill="#581414"/>
<rect x="495.00" y="49.06" width="9.00" height="8.76" fill="#581414"/>
<rect x="495.00" y="40.60" width="9.00" height="8.76" fill="#581414"/>
<line x1="504" y1="91.36" x2="506.3" y2="91.36" stroke="#000" stroke-width="0.9"/>
<text x="523.70" y="100.06" font-size="20.00" text-anchor="middle">54</text>
<line x1="504" y1="142.12" x2="506.3" y2="142.12" stroke="#000" stroke-width="0.9"/>
<text x="523.70" y="150.82" font-size="20.00" text-anchor="middle">48</text>
<line x1="504" y1="192.88" x2="506.3" y2="192.88" stroke="#000" stroke-width="0.9"/>
<text x="523.70" y="201.58" font-size="20.00" text-anchor="middle">42</text>
<line x1="504" y1="243.64" x2="506.3" y2="243.64" stroke="#000" stroke-width="0.9"/>
<text x="523.70" y="252.34" font-size="20.00" text-anchor="middle">36</text>
<line x1="504" y1="294.40" x2="506.3" y2="294.40" stroke="#000" stroke-width="0.9"/>
<text x="523.70" y="303.10" font-size="20.00" text-anchor="middle">30</text>
<line x1="504" y1="345.16" x2="506.3" y2="345.16" stroke="#000" stroke-width="0.9"/>
<text x="523.70" y="353.86" font-size="20.00" text-anchor="middle">24</text>
<line x1="504" y1="395.92" x2="506.3" y2="395.92" stroke="#000" stroke-width="0.9"/>
<text x="523.70" y="404.62" font-size="20.00" text-anchor="middle">18</text>
<line x1="504" y1="446.68" x2="506.3" y2="446.68" stroke="#000" stroke-width="0.9"/>
<text x="523.70" y="455.38" font-size="20.00" text-anchor="middle">12</text>
<line x1="504" y1="497.44" x2="506.3" y2="497.44" stroke="#000" stroke-width="0.9"/>
<text x="523.70" y="506.14" font-size="20.00" text-anchor="middle">6</text>
<line x1="504" y1="548.20" x2="506.3" y2="548.20" stroke="#000" stroke-width="0.9"/>
<text x="523.70" y="556.90" font-size="20.00" text-anchor="middle">0</text>
<text x="37.00" y="65.70" font-size="25.00" text-anchor="start">2A25 near surface rainrate (mm/hr)</text>
<text x="438.50" y="523.20" font-size="30.00" text-anchor="start">(c)</text>
</g>
<defs><clipPath id="cd"><path d="M13.0,653.5 L50.3,631.2 L486.0,631.2 L486.0,692.7 L404.3,747.8 L325.6,798.4 L246.9,848.5 L168.2,899.3 L89.5,944.1 L12.9,988.1Z"/></clipPath><radialGradient id="gd" cx="0.5" cy="0.5" r="0.5"><stop offset="0" stop-color="#bdbdbd"/><stop offset="0.6" stop-color="#d0d0d0"/><stop offset="1" stop-color="#e4e4e4" stop-opacity="0"/></radialGradient></defs>
<path d="M13.0,653.5 L50.3,631.2 L486.0,631.2 L486.0,692.7 L404.3,747.8 L325.6,798.4 L246.9,848.5 L168.2,899.3 L89.5,944.1 L12.9,988.1Z" fill="#e6e6e6"/>
<g clip-path="url(#cd)">
<path d="M298.7,631.0 L401.5,631.0 L386.8,656.7 L342.8,664.0 L298.7,649.4Z" fill="#dcdcdc" opacity="0.8" filter="url(#bl)"/>
<ellipse cx="0" cy="0" rx="55" ry="28" fill="url(#gd)" transform="translate(448,662) rotate(50)"/>
<ellipse cx="0" cy="0" rx="35" ry="18" fill="url(#gd)" transform="translate(420,700) rotate(60)"/>
<ellipse cx="0" cy="0" rx="30" ry="16" fill="url(#gd)" transform="translate(470,690) rotate(70)"/>
<ellipse cx="0" cy="0" rx="30" ry="12" fill="url(#gd)" opacity="0.4" transform="translate(385,648) rotate(40)"/>
<path d="M408.8,631.0 L414.7,631.0 L420.6,637.6 L425.0,643.5 L423.5,649.4 L419.1,648.6 L416.2,642.0 L410.3,637.6Z M459.5,635.4 L466.1,636.1 L464.6,645.0 L468.3,650.8 L463.2,654.5 L458.7,648.6 L460.2,642.0Z M441.1,662.6 L448.5,660.4 L455.8,664.0 L460.2,671.4 L457.3,675.1 L451.4,675.8 L445.5,669.9Z M408.8,683.1 L415.4,678.7 L419.1,686.1 L429.4,691.9 L433.1,696.3 L427.9,697.8 L430.9,703.7 L435.3,709.6 L433.8,716.9 L429.4,722.8 L423.5,719.8 L422.0,714.0 L425.0,708.1 L420.6,700.7 L414.7,696.3 L413.2,689.0Z M468.2,671.1 L480.9,670.6 L480.0,675.6 L481.8,682.8 L478.2,687.3 L473.6,691.9 L468.2,698.2 L464.6,693.7 L463.7,687.3 L467.3,682.8 L469.1,677.4Z" fill="#74cc74" stroke="#000" stroke-width="1.00" stroke-linejoin="round"/>
<path d="M410.3,683.1 L414.7,680.9 L416.2,684.6 L412.5,685.3Z M473.6,673.8 L479.1,672.0 L478.2,681.0 L474.6,682.8Z M426.4,706.6 L432.3,706.6 L433.8,714.0 L427.9,716.9Z" fill="#70a8ff"/>
<path d="M425.7,714.0 L433.1,708.8" stroke="#ffd000" stroke-width="1.5" fill="none"/>
<path d="M425.3,716.2 L433.5,711.0" stroke="#ff3000" stroke-width="1.2" fill="none"/>
<ellipse cx="332.5" cy="654.5" rx="2.3" ry="1.8" fill="#000"/>
<ellipse cx="384.6" cy="656.7" rx="2.3" ry="1.8" fill="#000"/>
<ellipse cx="413.2" cy="664.8" rx="2.1" ry="1.5" fill="#000"/>
<ellipse cx="472.0" cy="657.4" rx="1.8" ry="1.5" fill="#000"/>
<ellipse cx="442.6" cy="718.4" rx="3.2" ry="1.5" fill="#000"/>
<ellipse cx="430.1" cy="722.0" rx="2.6" ry="1.8" fill="#000"/>
<ellipse cx="477.8" cy="699.3" rx="2.3" ry="1.2" fill="#000"/>
<ellipse cx="480.8" cy="694.9" rx="2.1" ry="1.2" fill="#000"/>
</g>
<g transform="translate(0.00,590.50)">
<line x1="89.50" y1="40.80" x2="89.50" y2="548.50" class="gv"/>
<line x1="168.20" y1="40.80" x2="168.20" y2="548.50" class="gv"/>
<line x1="246.90" y1="40.80" x2="246.90" y2="548.50" class="gv"/>
<line x1="325.60" y1="40.80" x2="325.60" y2="548.50" class="gv"/>
<line x1="404.30" y1="40.80" x2="404.30" y2="548.50" class="gv"/>
<line x1="483.00" y1="40.80" x2="483.00" y2="548.50" class="gv"/>
<line x1="13.00" y1="65.30" x2="486.00" y2="65.30" class="gh"/>
<line x1="13.00" y1="149.90" x2="486.00" y2="149.90" class="gh"/>
<line x1="13.00" y1="234.50" x2="486.00" y2="234.50" class="gh"/>
<line x1="13.00" y1="319.10" x2="486.00" y2="319.10" class="gh"/>
<line x1="13.00" y1="403.70" x2="486.00" y2="403.70" class="gh"/>
<line x1="13.00" y1="488.30" x2="486.00" y2="488.30" class="gh"/>
<path d="M13.00,185.70 L17.00,183.40 L21.00,181.09 L25.00,178.78 L29.00,176.47 L33.00,174.15 L37.00,171.83 L41.00,169.50 L45.00,167.17 L49.00,164.84 L53.00,162.50 L57.00,160.15 L61.00,157.81 L65.00,155.46 L69.00,153.10 L73.00,150.74 L77.00,148.38 L81.00,146.01 L85.00,143.64 L89.00,141.27 L93.00,138.89 L97.00,136.50 L101.00,134.12 L105.00,131.73 L109.00,129.33 L113.00,126.93 L117.00,124.53 L121.00,122.12 L125.00,119.71 L129.00,117.29 L133.00,114.87 L137.00,112.45 L141.00,110.02 L145.00,107.59 L149.00,105.15 L153.00,102.71 L157.00,100.27 L161.00,97.82 L165.00,95.37 L169.00,92.91 L173.00,90.45 L177.00,87.98 L181.00,85.52 L185.00,83.04 L189.00,80.57 L193.00,78.09 L197.00,75.60 L201.00,73.11 L205.00,70.62 L209.00,68.12 L213.00,65.62 L217.00,63.11 L221.00,60.61 L225.00,58.09 L229.00,55.57 L233.00,53.05 L237.00,50.53 L241.00,48.00 L245.00,45.46 L249.00,42.93 L252.35,40.80" class="sw"/>
<path d="M13.00,280.70 L17.00,278.40 L21.00,276.09 L25.00,273.78 L29.00,271.47 L33.00,269.15 L37.00,266.83 L41.00,264.50 L45.00,262.17 L49.00,259.84 L53.00,257.50 L57.00,255.15 L61.00,252.81 L65.00,250.46 L69.00,248.10 L73.00,245.74 L77.00,243.38 L81.00,241.01 L85.00,238.64 L89.00,236.27 L93.00,233.89 L97.00,231.50 L101.00,229.12 L105.00,226.73 L109.00,224.33 L113.00,221.93 L117.00,219.53 L121.00,217.12 L125.00,214.71 L129.00,212.29 L133.00,209.87 L137.00,207.45 L141.00,205.02 L145.00,202.59 L149.00,200.15 L153.00,197.71 L157.00,195.27 L161.00,192.82 L165.00,190.37 L169.00,187.91 L173.00,185.45 L177.00,182.98 L181.00,180.52 L185.00,178.04 L189.00,175.57 L193.00,173.09 L197.00,170.60 L201.00,168.11 L205.00,165.62 L209.00,163.12 L213.00,160.62 L217.00,158.11 L221.00,155.61 L225.00,153.09 L229.00,150.57 L233.00,148.05 L237.00,145.53 L241.00,143.00 L245.00,140.46 L249.00,137.93 L253.00,135.38 L257.00,132.84 L261.00,130.29 L265.00,127.73 L269.00,125.18 L273.00,122.61 L277.00,120.05 L281.00,117.48 L285.00,114.90 L289.00,112.33 L293.00,109.74 L297.00,107.16 L301.00,104.57 L305.00,101.97 L309.00,99.37 L313.00,96.77 L317.00,94.16 L321.00,91.55 L325.00,88.94 L329.00,86.32 L333.00,83.70 L337.00,81.07 L341.00,78.44 L345.00,75.80 L349.00,73.16 L353.00,70.52 L357.00,67.87 L361.00,65.22 L365.00,62.56 L369.00,59.90 L373.00,57.24 L377.00,54.57 L381.00,51.90 L385.00,49.23 L389.00,46.55 L393.00,43.86 L397.00,41.17 L397.55,40.80" class="sw"/>
<text x="89.50" y="297.90" font-size="12.00" text-anchor="middle">166</text>
<text x="168.20" y="297.90" font-size="12.00" text-anchor="middle">168</text>
<text x="246.90" y="297.90" font-size="12.00" text-anchor="middle">170</text>
<text x="325.60" y="297.90" font-size="12.00" text-anchor="middle">172</text>
<text x="404.30" y="297.90" font-size="12.00" text-anchor="middle">174</text>
<text x="483.00" y="297.90" font-size="12.00" text-anchor="middle">176</text>
<text x="258.00" y="65.80" font-size="12.00" text-anchor="start">-18</text>
<text x="258.00" y="150.40" font-size="12.00" text-anchor="start">-20</text>
<text x="258.00" y="235.00" font-size="12.00" text-anchor="start">-22</text>
<text x="258.00" y="319.60" font-size="12.00" text-anchor="start">-24</text>
<text x="258.00" y="404.20" font-size="12.00" text-anchor="start">-26</text>
<text x="258.00" y="488.80" font-size="12.00" text-anchor="start">-28</text>
<path d="M243.2,292.2h12.4v4.6h-12.4z M247.1,288.3h4.6v12.4h-4.6z" fill="#000"/>
<rect x="495.00" y="531.28" width="9.00" height="8.76" fill="#f4f4f4"/>
<rect x="495.00" y="522.82" width="9.00" height="8.76" fill="#ececec"/>
<rect x="495.00" y="514.36" width="9.00" height="8.76" fill="#e4e4e4"/>
<rect x="495.00" y="505.90" width="9.00" height="8.76" fill="#dcdcdc"/>
<rect x="495.00" y="497.44" width="9.00" height="8.76" fill="#d5d5d5"/>
<rect x="495.00" y="488.98" width="9.00" height="8.76" fill="#cdcdcd"/>
<rect x="495.00" y="480.52" width="9.00" height="8.76" fill="#c5c5c5"/>
<rect x="495.00" y="472.06" width="9.00" height="8.76" fill="#bdbdbd"/>
<rect x="495.00" y="463.60" width="9.00" height="8.76" fill="#b5b5b5"/>
<rect x="495.00" y="455.14" width="9.00" height="8.76" fill="#adadad"/>
<rect x="495.00" y="446.68" width="9.00" height="8.76" fill="#a6a6a6"/>
<rect x="495.00" y="438.22" width="9.00" height="8.76" fill="#9e9e9e"/>
<rect x="495.00" y="429.76" width="9.00" height="8.76" fill="#969696"/>
<rect x="495.00" y="421.30" width="9.00" height="8.76" fill="#8e8e8e"/>
<rect x="495.00" y="412.84" width="9.00" height="8.76" fill="#80e080"/>
<rect x="495.00" y="404.38" width="9.00" height="8.76" fill="#78d878"/>
<rect x="495.00" y="395.92" width="9.00" height="8.76" fill="#70cc70"/>
<rect x="495.00" y="387.46" width="9.00" height="8.76" fill="#68c068"/>
<rect x="495.00" y="379.00" width="9.00" height="8.76" fill="#66bb66"/>
<rect x="495.00" y="370.54" width="9.00" height="8.76" fill="#d0d8ff"/>
<rect x="495.00" y="362.08" width="9.00" height="8.76" fill="#b0ccff"/>
<rect x="495.00" y="353.62" width="9.00" height="8.76" fill="#99c8ff"/>
<rect x="495.00" y="345.16" width="9.00" height="8.76" fill="#80c0ff"/>
<rect x="495.00" y="336.70" width="9.00" height="8.76" fill="#66b4ff"/>
<rect x="495.00" y="328.24" width="9.00" height="8.76" fill="#4aaaff"/>
<rect x="495.00" y="319.78" width="9.00" height="8.76" fill="#4488ff"/>
<rect x="495.00" y="311.32" width="9.00" height="8.76" fill="#4466ff"/>
<rect x="495.00" y="302.86" width="9.00" height="8.76" fill="#3a3aff"/>
<rect x="495.00" y="294.40" width="9.00" height="8.76" fill="#2a2aff"/>
<rect x="495.00" y="285.94" width="9.00" height="8.76" fill="#0000ff"/>
<rect x="495.00" y="277.48" width="9.00" height="8.76" fill="#0000f0"/>
<rect x="495.00" y="269.02" width="9.00" height="8.76" fill="#0000e4"/>
<rect x="495.00" y="260.56" width="9.00" height="8.76" fill="#0000d8"/>
<rect x="495.00" y="252.10" width="9.00" height="8.76" fill="#0000cc"/>
<rect x="495.00" y="243.64" width="9.00" height="8.76" fill="#ffff00"/>
<rect x="495.00" y="235.18" width="9.00" height="8.76" fill="#fff200"/>
<rect x="495.00" y="226.72" width="9.00" height="8.76" fill="#ffe800"/>
<rect x="495.00" y="218.26" width="9.00" height="8.76" fill="#ffdd00"/>
<rect x="495.00" y="209.80" width="9.00" height="8.76" fill="#ffd000"/>
<rect x="495.00" y="201.34" width="9.00" height="8.76" fill="#ff8800"/>
<rect x="495.00" y="192.88" width="9.00" height="8.76" fill="#ff8000"/>
<rect x="495.00" y="184.42" width="9.00" height="8.76" fill="#ff7a00"/>
<rect x="495.00" y="175.96" width="9.00" height="8.76" fill="#ff7400"/>
<rect x="495.00" y="167.50" width="9.00" height="8.76" fill="#ff6e00"/>
<rect x="495.00" y="159.04" width="9.00" height="8.76" fill="#ff4400"/>
<rect x="495.00" y="150.58" width="9.00" height="8.76" fill="#ff3a00"/>
<rect x="495.00" y="142.12" width="9.00" height="8.76" fill="#ff3300"/>
<rect x="495.00" y="133.66" width="9.00" height="8.76" fill="#ff2200"/>
<rect x="495.00" y="125.20" width="9.00" height="8.76" fill="#ff1100"/>
<rect x="495.00" y="116.74" width="9.00" height="8.76" fill="#cc0000"/>
<rect x="495.00" y="108.28" width="9.00" height="8.76" fill="#c40000"/>
<rect x="495.00" y="99.82" width="9.00" height="8.76" fill="#b80000"/>
<rect x="495.00" y="91.36" width="9.00" height="8.76" fill="#aa0000"/>
<rect x="495.00" y="82.90" width="9.00" height="8.76" fill="#a00800"/>
<rect x="495.00" y="74.44" width="9.00" height="8.76" fill="#600f0a"/>
<rect x="495.00" y="65.98" width="9.00" height="8.76" fill="#600f0a"/>
<rect x="495.00" y="57.52" width="9.00" height="8.76" fill="#581414"/>
<rect x="495.00" y="49.06" width="9.00" height="8.76" fill="#581414"/>
<rect x="495.00" y="40.60" width="9.00" height="8.76" fill="#581414"/>
<line x1="504" y1="91.36" x2="506.3" y2="91.36" stroke="#000" stroke-width="0.9"/>
<text x="523.70" y="100.06" font-size="20.00" text-anchor="middle">111</text>
<line x1="504" y1="142.12" x2="506.3" y2="142.12" stroke="#000" stroke-width="0.9"/>
<text x="523.70" y="150.82" font-size="20.00" text-anchor="middle">132</text>
<line x1="504" y1="192.88" x2="506.3" y2="192.88" stroke="#000" stroke-width="0.9"/>
<text x="523.70" y="201.58" font-size="20.00" text-anchor="middle">153</text>
<line x1="504" y1="243.64" x2="506.3" y2="243.64" stroke="#000" stroke-width="0.9"/>
<text x="523.70" y="252.34" font-size="20.00" text-anchor="middle">174</text>
<line x1="504" y1="294.40" x2="506.3" y2="294.40" stroke="#000" stroke-width="0.9"/>
<text x="523.70" y="303.10" font-size="20.00" text-anchor="middle">195</text>
<line x1="504" y1="345.16" x2="506.3" y2="345.16" stroke="#000" stroke-width="0.9"/>
<text x="523.70" y="353.86" font-size="20.00" text-anchor="middle">216</text>
<line x1="504" y1="395.92" x2="506.3" y2="395.92" stroke="#000" stroke-width="0.9"/>
<text x="523.70" y="404.62" font-size="20.00" text-anchor="middle">237</text>
<line x1="504" y1="446.68" x2="506.3" y2="446.68" stroke="#000" stroke-width="0.9"/>
<text x="523.70" y="455.38" font-size="20.00" text-anchor="middle">258</text>
<line x1="504" y1="497.44" x2="506.3" y2="497.44" stroke="#000" stroke-width="0.9"/>
<text x="523.70" y="506.14" font-size="20.00" text-anchor="middle">279</text>
<line x1="504" y1="548.20" x2="506.3" y2="548.20" stroke="#000" stroke-width="0.9"/>
<text x="523.70" y="556.90" font-size="20.00" text-anchor="middle">300</text>
<text x="43.95" y="65.70" font-size="25.00" text-anchor="start">85GHz PCT (K)</text>
<text x="438.50" y="523.20" font-size="30.00" text-anchor="start">(d)</text>
</g>
<defs><clipPath id="ce"><path d="M603.3,654.6 L640.8,631.2 L1076.4,631.2 L1076.4,692.8 L994.9,747.8 L916.1,798.3 L837.3,848.6 L758.8,899.4 L680.1,944.0 L603.3,988.1Z"/></clipPath></defs>
<path d="M603.3,654.6 L640.8,631.2 L1076.4,631.2 L1076.4,692.8 L994.9,747.8 L916.1,798.3 L837.3,848.6 L758.8,899.4 L680.1,944.0 L603.3,988.1Z" fill="#aac8ff"/>
<g clip-path="url(#ce)">
<path d="M603.3,856.5 L674.7,879.1 L759.4,896.0 L787.6,879.1 L680.1,944.0 L603.3,988.1Z" fill="#8cc0ff" opacity="0.8" filter="url(#bl)"/>
<path d="M759.4,783.1 L804.6,771.8 L872.3,783.1 L917.5,794.4 L872.3,822.6 L838.4,845.2 L787.6,850.9 L748.1,822.6Z" fill="#88bcff" opacity="0.8" filter="url(#bl)"/>
<path d="M838.4,794.4 L872.3,791.6 L894.9,808.5 L889.3,822.6 L861.0,833.9 L838.4,842.4 L830.0,822.6Z" fill="#5a90ff" opacity="0.85" filter="url(#bl2)"/>
<path d="M603.3,654.6 L640.8,631.2 L827.2,631.2 L835.6,653.2 L844.1,681.5 L855.4,701.2 L861.0,712.5 L844.1,721.0 L821.5,718.2 L810.2,732.3 L793.3,743.6 L784.8,757.7 L770.7,753.5 L756.6,763.3 L748.1,777.5 L739.6,794.4 L731.2,811.3 L725.5,828.3 L722.7,842.4 L714.2,848.0 L697.3,842.4 L680.3,831.1 L663.4,817.0 L646.5,800.0 L632.3,783.1 L618.2,763.3 L606.9,752.0 L603.3,749.2Z" fill="#72c872"/>
<path d="M625.0,747.5 L648.4,765.0 L670.5,785.6 L691.1,803.1 L711.7,817.8 L717.6,830.0 L697.0,830.0 L682.3,816.4 L661.7,798.9 L638.3,776.9 L614.6,756.3Z" fill="#80b8ff"/>
<path d="M623.9,752.0 L646.5,769.0 L669.1,790.2 L688.8,807.1 L708.6,822.6 L702.9,826.0 L683.2,811.3 L663.4,794.4 L640.8,774.6 L621.1,757.1Z" fill="#4a8cff"/>
<path d="M603.3,749.2 L606.9,752.0 L618.2,763.3 L615.4,771.8 L603.3,766.2Z" fill="#a8c4ff"/>
<path d="M629.5,729.5 L646.5,732.3 L660.6,737.9 L663.4,746.4 L652.1,752.0 L640.8,754.9 L632.3,746.4Z" fill="#9a9a9a"/>
<path d="M702.9,667.3 L708.6,667.3 L708.6,673.0 L702.9,673.0Z M717.0,673.0 L725.5,673.0 L725.5,680.1 L717.0,680.1Z M674.7,639.1 L683.2,639.1 L683.2,644.8 L674.7,644.8Z M626.7,771.8 L632.3,771.8 L632.3,777.5 L626.7,777.5Z" fill="#a0a0a0"/>
<path d="M804.6,678.6 L815.9,681.5 L818.7,692.8 L807.4,692.8Z M725.5,769.0 L739.6,771.8 L743.9,783.1 L731.2,783.1Z M759.4,794.4 L767.9,797.2 L767.9,805.7 L759.4,802.9Z M618.2,667.3 L635.2,664.5 L646.5,675.8 L632.3,681.5Z M660.6,692.8 L674.7,689.9 L680.3,701.2 L666.2,704.1Z M708.6,732.3 L722.7,737.9 L719.9,749.2 L708.6,746.4Z M782.0,718.2 L793.3,715.3 L798.9,726.6 L787.6,729.5Z" fill="#b8ccff"/>
<path d="M838.4,641.9 L843.5,641.9 L843.5,646.5 L838.4,646.5Z M849.7,658.9 L854.8,658.9 L854.8,663.4 L849.7,663.4Z M861.0,670.2 L866.1,670.2 L866.1,674.7 L861.0,674.7Z M872.3,650.4 L877.4,650.4 L877.4,654.9 L872.3,654.9Z M880.8,641.9 L885.9,641.9 L885.9,646.5 L880.8,646.5Z M894.9,664.5 L900.0,664.5 L900.0,669.0 L894.9,669.0Z M849.7,692.8 L854.8,692.8 L854.8,697.3 L849.7,697.3Z M866.7,692.8 L871.8,692.8 L871.8,697.3 L866.7,697.3Z M861.0,726.6 L866.1,726.6 L866.1,731.2 L861.0,731.2Z M844.1,732.3 L849.2,732.3 L849.2,736.8 L844.1,736.8Z M827.2,743.6 L832.2,743.6 L832.2,748.1 L827.2,748.1Z M804.6,749.2 L809.6,749.2 L809.6,753.7 L804.6,753.7Z M793.3,760.5 L798.4,760.5 L798.4,765.0 L793.3,765.0Z M776.3,766.2 L781.4,766.2 L781.4,770.7 L776.3,770.7Z M759.4,794.4 L764.5,794.4 L764.5,798.9 L759.4,798.9Z M748.1,839.6 L753.2,839.6 L753.2,844.1 L748.1,844.1Z M765.0,850.9 L770.1,850.9 L770.1,855.4 L765.0,855.4Z M776.3,853.7 L781.4,853.7 L781.4,858.2 L776.3,858.2Z M731.2,856.5 L736.2,856.5 L736.2,861.0 L731.2,861.0Z M722.7,845.2 L727.8,845.2 L727.8,849.7 L722.7,849.7Z M878.0,641.9 L883.1,641.9 L883.1,646.5 L878.0,646.5Z M971.1,658.9 L976.2,658.9 L976.2,663.4 L971.1,663.4Z M985.3,670.2 L990.3,670.2 L990.3,674.7 L985.3,674.7Z M858.2,681.5 L863.3,681.5 L863.3,686.0 L858.2,686.0Z M835.6,709.7 L840.7,709.7 L840.7,714.2 L835.6,714.2Z" fill="#72c872"/>
<path d="M996.5,631.2 L1013.5,631.2 L1022.0,641.9 L1013.5,650.4 L1002.2,641.9Z M976.8,644.8 L985.3,646.2 L982.4,656.1 L974.0,653.2Z M920.3,650.4 L926.0,651.8 L924.6,657.5 L918.9,656.1Z" fill="#3a50ff"/>
<path d="M1038.9,631.2 L1055.8,631.2 L1070.0,653.2 L1076.4,667.3 L1076.4,692.8 L1061.5,695.6 L1047.4,681.5 L1036.1,658.9 L1030.4,641.9Z" fill="#2a3cff"/>
<path d="M999.4,675.8 L1013.5,681.5 L1024.8,698.4 L1030.4,715.3 L1022.0,723.8 L1010.7,715.3 L1002.2,698.4Z" fill="#3048ff"/>
<path d="M1013.5,658.9 L1030.4,653.2 L1041.7,664.5 L1030.4,675.8 L1019.1,670.2Z M1024.8,718.2 L1038.9,715.3 L1041.7,721.0 L1030.4,726.6Z" fill="#5a8cff"/>
<path d="M1016.3,709.1 L1024.8,709.7 L1025.3,716.8 L1016.9,715.9Z M1064.3,678.1 L1070.0,676.4 L1070.5,680.1 L1064.9,680.9Z" fill="#ffc000"/>
</g>
<g transform="translate(590.50,590.50)">
<line x1="89.50" y1="40.80" x2="89.50" y2="548.50" class="gv"/>
<line x1="168.20" y1="40.80" x2="168.20" y2="548.50" class="gv"/>
<line x1="246.90" y1="40.80" x2="246.90" y2="548.50" class="gv"/>
<line x1="325.60" y1="40.80" x2="325.60" y2="548.50" class="gv"/>
<line x1="404.30" y1="40.80" x2="404.30" y2="548.50" class="gv"/>
<line x1="483.00" y1="40.80" x2="483.00" y2="548.50" class="gv"/>
<line x1="13.00" y1="65.30" x2="486.00" y2="65.30" class="gh"/>
<line x1="13.00" y1="149.90" x2="486.00" y2="149.90" class="gh"/>
<line x1="13.00" y1="234.50" x2="486.00" y2="234.50" class="gh"/>
<line x1="13.00" y1="319.10" x2="486.00" y2="319.10" class="gh"/>
<line x1="13.00" y1="403.70" x2="486.00" y2="403.70" class="gh"/>
<line x1="13.00" y1="488.30" x2="486.00" y2="488.30" class="gh"/>
<path d="M13.00,185.70 L17.00,183.40 L21.00,181.09 L25.00,178.78 L29.00,176.47 L33.00,174.15 L37.00,171.83 L41.00,169.50 L45.00,167.17 L49.00,164.84 L53.00,162.50 L57.00,160.15 L61.00,157.81 L65.00,155.46 L69.00,153.10 L73.00,150.74 L77.00,148.38 L81.00,146.01 L85.00,143.64 L89.00,141.27 L93.00,138.89 L97.00,136.50 L101.00,134.12 L105.00,131.73 L109.00,129.33 L113.00,126.93 L117.00,124.53 L121.00,122.12 L125.00,119.71 L129.00,117.29 L133.00,114.87 L137.00,112.45 L141.00,110.02 L145.00,107.59 L149.00,105.15 L153.00,102.71 L157.00,100.27 L161.00,97.82 L165.00,95.37 L169.00,92.91 L173.00,90.45 L177.00,87.98 L181.00,85.52 L185.00,83.04 L189.00,80.57 L193.00,78.09 L197.00,75.60 L201.00,73.11 L205.00,70.62 L209.00,68.12 L213.00,65.62 L217.00,63.11 L221.00,60.61 L225.00,58.09 L229.00,55.57 L233.00,53.05 L237.00,50.53 L241.00,48.00 L245.00,45.46 L249.00,42.93 L252.35,40.80" class="sw"/>
<path d="M13.00,280.70 L17.00,278.40 L21.00,276.09 L25.00,273.78 L29.00,271.47 L33.00,269.15 L37.00,266.83 L41.00,264.50 L45.00,262.17 L49.00,259.84 L53.00,257.50 L57.00,255.15 L61.00,252.81 L65.00,250.46 L69.00,248.10 L73.00,245.74 L77.00,243.38 L81.00,241.01 L85.00,238.64 L89.00,236.27 L93.00,233.89 L97.00,231.50 L101.00,229.12 L105.00,226.73 L109.00,224.33 L113.00,221.93 L117.00,219.53 L121.00,217.12 L125.00,214.71 L129.00,212.29 L133.00,209.87 L137.00,207.45 L141.00,205.02 L145.00,202.59 L149.00,200.15 L153.00,197.71 L157.00,195.27 L161.00,192.82 L165.00,190.37 L169.00,187.91 L173.00,185.45 L177.00,182.98 L181.00,180.52 L185.00,178.04 L189.00,175.57 L193.00,173.09 L197.00,170.60 L201.00,168.11 L205.00,165.62 L209.00,163.12 L213.00,160.62 L217.00,158.11 L221.00,155.61 L225.00,153.09 L229.00,150.57 L233.00,148.05 L237.00,145.53 L241.00,143.00 L245.00,140.46 L249.00,137.93 L253.00,135.38 L257.00,132.84 L261.00,130.29 L265.00,127.73 L269.00,125.18 L273.00,122.61 L277.00,120.05 L281.00,117.48 L285.00,114.90 L289.00,112.33 L293.00,109.74 L297.00,107.16 L301.00,104.57 L305.00,101.97 L309.00,99.37 L313.00,96.77 L317.00,94.16 L321.00,91.55 L325.00,88.94 L329.00,86.32 L333.00,83.70 L337.00,81.07 L341.00,78.44 L345.00,75.80 L349.00,73.16 L353.00,70.52 L357.00,67.87 L361.00,65.22 L365.00,62.56 L369.00,59.90 L373.00,57.24 L377.00,54.57 L381.00,51.90 L385.00,49.23 L389.00,46.55 L393.00,43.86 L397.00,41.17 L397.55,40.80" class="sw"/>
<text x="89.50" y="297.90" font-size="12.00" text-anchor="middle">166</text>
<text x="168.20" y="297.90" font-size="12.00" text-anchor="middle">168</text>
<text x="246.90" y="297.90" font-size="12.00" text-anchor="middle">170</text>
<text x="325.60" y="297.90" font-size="12.00" text-anchor="middle">172</text>
<text x="404.30" y="297.90" font-size="12.00" text-anchor="middle">174</text>
<text x="483.00" y="297.90" font-size="12.00" text-anchor="middle">176</text>
<text x="258.00" y="65.80" font-size="12.00" text-anchor="start">-18</text>
<text x="258.00" y="150.40" font-size="12.00" text-anchor="start">-20</text>
<text x="258.00" y="235.00" font-size="12.00" text-anchor="start">-22</text>
<text x="258.00" y="319.60" font-size="12.00" text-anchor="start">-24</text>
<text x="258.00" y="404.20" font-size="12.00" text-anchor="start">-26</text>
<text x="258.00" y="488.80" font-size="12.00" text-anchor="start">-28</text>
<path d="M243.2,292.2h12.4v4.6h-12.4z M247.1,288.3h4.6v12.4h-4.6z" fill="#000"/>
<rect x="495.00" y="531.28" width="9.00" height="8.76" fill="#f4f4f4"/>
<rect x="495.00" y="522.82" width="9.00" height="8.76" fill="#ececec"/>
<rect x="495.00" y="514.36" width="9.00" height="8.76" fill="#e4e4e4"/>
<rect x="495.00" y="505.90" width="9.00" height="8.76" fill="#dcdcdc"/>
<rect x="495.00" y="497.44" width="9.00" height="8.76" fill="#d5d5d5"/>
<rect x="495.00" y="488.98" width="9.00" height="8.76" fill="#cdcdcd"/>
<rect x="495.00" y="480.52" width="9.00" height="8.76" fill="#c5c5c5"/>
<rect x="495.00" y="472.06" width="9.00" height="8.76" fill="#bdbdbd"/>
<rect x="495.00" y="463.60" width="9.00" height="8.76" fill="#b5b5b5"/>
<rect x="495.00" y="455.14" width="9.00" height="8.76" fill="#adadad"/>
<rect x="495.00" y="446.68" width="9.00" height="8.76" fill="#a6a6a6"/>
<rect x="495.00" y="438.22" width="9.00" height="8.76" fill="#9e9e9e"/>
<rect x="495.00" y="429.76" width="9.00" height="8.76" fill="#969696"/>
<rect x="495.00" y="421.30" width="9.00" height="8.76" fill="#8e8e8e"/>
<rect x="495.00" y="412.84" width="9.00" height="8.76" fill="#80e080"/>
<rect x="495.00" y="404.38" width="9.00" height="8.76" fill="#78d878"/>
<rect x="495.00" y="395.92" width="9.00" height="8.76" fill="#70cc70"/>
<rect x="495.00" y="387.46" width="9.00" height="8.76" fill="#68c068"/>
<rect x="495.00" y="379.00" width="9.00" height="8.76" fill="#66bb66"/>
<rect x="495.00" y="370.54" width="9.00" height="8.76" fill="#d0d8ff"/>
<rect x="495.00" y="362.08" width="9.00" height="8.76" fill="#b0ccff"/>
<rect x="495.00" y="353.62" width="9.00" height="8.76" fill="#99c8ff"/>
<rect x="495.00" y="345.16" width="9.00" height="8.76" fill="#80c0ff"/>
<rect x="495.00" y="336.70" width="9.00" height="8.76" fill="#66b4ff"/>
<rect x="495.00" y="328.24" width="9.00" height="8.76" fill="#4aaaff"/>
<rect x="495.00" y="319.78" width="9.00" height="8.76" fill="#4488ff"/>
<rect x="495.00" y="311.32" width="9.00" height="8.76" fill="#4466ff"/>
<rect x="495.00" y="302.86" width="9.00" height="8.76" fill="#3a3aff"/>
<rect x="495.00" y="294.40" width="9.00" height="8.76" fill="#2a2aff"/>
<rect x="495.00" y="285.94" width="9.00" height="8.76" fill="#0000ff"/>
<rect x="495.00" y="277.48" width="9.00" height="8.76" fill="#0000f0"/>
<rect x="495.00" y="269.02" width="9.00" height="8.76" fill="#0000e4"/>
<rect x="495.00" y="260.56" width="9.00" height="8.76" fill="#0000d8"/>
<rect x="495.00" y="252.10" width="9.00" height="8.76" fill="#0000cc"/>
<rect x="495.00" y="243.64" width="9.00" height="8.76" fill="#ffff00"/>
<rect x="495.00" y="235.18" width="9.00" height="8.76" fill="#fff200"/>
<rect x="495.00" y="226.72" width="9.00" height="8.76" fill="#ffe800"/>
<rect x="495.00" y="218.26" width="9.00" height="8.76" fill="#ffdd00"/>
<rect x="495.00" y="209.80" width="9.00" height="8.76" fill="#ffd000"/>
<rect x="495.00" y="201.34" width="9.00" height="8.76" fill="#ff8800"/>
<rect x="495.00" y="192.88" width="9.00" height="8.76" fill="#ff8000"/>
<rect x="495.00" y="184.42" width="9.00" height="8.76" fill="#ff7a00"/>
<rect x="495.00" y="175.96" width="9.00" height="8.76" fill="#ff7400"/>
<rect x="495.00" y="167.50" width="9.00" height="8.76" fill="#ff6e00"/>
<rect x="495.00" y="159.04" width="9.00" height="8.76" fill="#ff4400"/>
<rect x="495.00" y="150.58" width="9.00" height="8.76" fill="#ff3a00"/>
<rect x="495.00" y="142.12" width="9.00" height="8.76" fill="#ff3300"/>
<rect x="495.00" y="133.66" width="9.00" height="8.76" fill="#ff2200"/>
<rect x="495.00" y="125.20" width="9.00" height="8.76" fill="#ff1100"/>
<rect x="495.00" y="116.74" width="9.00" height="8.76" fill="#cc0000"/>
<rect x="495.00" y="108.28" width="9.00" height="8.76" fill="#c40000"/>
<rect x="495.00" y="99.82" width="9.00" height="8.76" fill="#b80000"/>
<rect x="495.00" y="91.36" width="9.00" height="8.76" fill="#aa0000"/>
<rect x="495.00" y="82.90" width="9.00" height="8.76" fill="#a00800"/>
<rect x="495.00" y="74.44" width="9.00" height="8.76" fill="#600f0a"/>
<rect x="495.00" y="65.98" width="9.00" height="8.76" fill="#600f0a"/>
<rect x="495.00" y="57.52" width="9.00" height="8.76" fill="#581414"/>
<rect x="495.00" y="49.06" width="9.00" height="8.76" fill="#581414"/>
<rect x="495.00" y="40.60" width="9.00" height="8.76" fill="#581414"/>
<line x1="504" y1="91.36" x2="506.3" y2="91.36" stroke="#000" stroke-width="0.9"/>
<text x="523.70" y="100.06" font-size="20.00" text-anchor="middle">234</text>
<line x1="504" y1="142.12" x2="506.3" y2="142.12" stroke="#000" stroke-width="0.9"/>
<text x="523.70" y="150.82" font-size="20.00" text-anchor="middle">243</text>
<line x1="504" y1="192.88" x2="506.3" y2="192.88" stroke="#000" stroke-width="0.9"/>
<text x="523.70" y="201.58" font-size="20.00" text-anchor="middle">252</text>
<line x1="504" y1="243.64" x2="506.3" y2="243.64" stroke="#000" stroke-width="0.9"/>
<text x="523.70" y="252.34" font-size="20.00" text-anchor="middle">261</text>
<line x1="504" y1="294.40" x2="506.3" y2="294.40" stroke="#000" stroke-width="0.9"/>
<text x="523.70" y="303.10" font-size="20.00" text-anchor="middle">270</text>
<line x1="504" y1="345.16" x2="506.3" y2="345.16" stroke="#000" stroke-width="0.9"/>
<text x="523.70" y="353.86" font-size="20.00" text-anchor="middle">279</text>
<line x1="504" y1="395.92" x2="506.3" y2="395.92" stroke="#000" stroke-width="0.9"/>
<text x="523.70" y="404.62" font-size="20.00" text-anchor="middle">288</text>
<line x1="504" y1="446.68" x2="506.3" y2="446.68" stroke="#000" stroke-width="0.9"/>
<text x="523.70" y="455.38" font-size="20.00" text-anchor="middle">297</text>
<line x1="504" y1="497.44" x2="506.3" y2="497.44" stroke="#000" stroke-width="0.9"/>
<text x="523.70" y="506.14" font-size="20.00" text-anchor="middle">306</text>
<line x1="504" y1="548.20" x2="506.3" y2="548.20" stroke="#000" stroke-width="0.9"/>
<text x="523.70" y="556.90" font-size="20.00" text-anchor="middle">315</text>
<text x="43.95" y="65.70" font-size="25.00" text-anchor="start">37GHz PCT (K)</text>
<text x="438.50" y="523.20" font-size="30.00" text-anchor="start">(e)</text>
</g>
<path d="M1199.8,658.9 L1208.2,644.8 L1222.3,639.1 L1236.5,641.9 L1250.6,647.6 L1261.9,656.1 L1273.2,661.7 L1273.2,675.8 L1264.7,681.5 L1247.8,678.6 L1242.1,687.1 L1236.5,698.4 L1225.2,704.1 L1213.9,701.2 L1208.2,692.8 L1208.2,681.5 L1202.6,670.2Z M1236.5,706.9 L1247.8,704.1 L1264.7,709.7 L1261.9,712.5 L1242.1,712.5Z M1276.0,698.4 L1287.3,695.6 L1287.3,702.6 L1278.8,705.5Z M1276.0,713.9 L1281.6,715.3 L1280.2,718.2 L1276.0,716.8Z M1257.6,723.8 L1267.5,721.0 L1261.9,725.2Z M1242.1,948.3 L1250.6,941.2 L1256.2,929.9 L1256.2,918.6 L1261.9,907.3 L1264.7,893.2 L1281.6,873.4 L1287.3,859.3 L1298.6,853.7 L1315.5,848.0 L1326.8,850.9 L1321.2,867.8 L1318.3,879.1 L1321.2,893.2 L1326.8,904.5 L1332.5,907.3 L1261.9,948.3Z M1340.9,833.9 L1355.0,826.9 L1362.1,826.9 L1357.9,833.9 L1346.6,839.6Z M1390.3,853.7 L1397.4,849.4 L1405.9,850.9 L1400.2,853.7 L1393.2,856.5Z M1340.9,846.6 L1346.6,846.6 L1345.2,850.9 L1340.9,849.4Z M1355.0,855.1 L1360.7,856.5 L1359.3,860.7 L1355.0,859.3Z M1583.7,631.2 L1620.4,631.2 L1631.7,636.3 L1645.8,631.2 L1660.0,636.3 L1665.6,653.2 L1666.4,681.5 L1660.0,692.8 L1651.5,701.2 L1643.0,695.6 L1631.7,681.5 L1620.4,664.5 L1609.1,653.2 L1603.5,647.6 L1592.2,639.1Z M1589.4,674.4 L1606.3,675.8 L1620.4,687.1 L1620.4,704.1 L1631.7,715.3 L1620.4,721.0 L1609.1,726.6 L1603.5,715.3 L1600.7,704.1 L1592.2,689.9Z M1566.8,641.9 L1578.1,639.1 L1580.9,647.6 L1575.3,667.3 L1569.6,667.3 L1564.0,656.1Z M1534.3,636.3 L1547.0,641.9 L1555.5,650.4 L1549.8,657.5 L1541.4,650.4 L1534.3,641.9Z M1592.2,658.9 L1600.7,661.7 L1600.7,667.3 L1595.0,667.3Z M1503.3,631.2 L1516.0,632.1 L1516.0,637.7 L1507.5,639.1Z M1513.1,650.4 L1521.6,647.6 L1520.2,656.1 L1513.1,657.5Z M1486.3,639.1 L1490.6,636.3 L1493.4,641.9 L1487.7,643.4Z M1434.1,631.2 L1445.4,633.5 L1446.8,639.1 L1439.7,637.7Z" fill="#8ade8a" stroke="#000" stroke-width="1.10" stroke-linejoin="round"/>
<path d="M1278.8,890.4 L1292.9,887.6 L1295.8,898.9 L1290.1,913.0 L1281.6,913.0 L1278.8,901.7Z" fill="#ffffff" stroke="#000" stroke-width="1.10" stroke-linejoin="round"/>
<path d="M1643.0,633.5 L1660.0,641.9 L1665.6,658.9 L1665.6,687.1 L1657.1,694.2 L1651.5,681.5 L1648.7,658.9Z M1606.3,704.1 L1617.6,709.7 L1623.3,718.2 L1612.0,722.4Z" fill="#5a9cff"/>
<path d="M1631.7,641.9 L1643.0,647.6 L1645.8,675.8 L1637.4,667.3Z M1597.8,678.6 L1609.1,681.5 L1612.0,689.9 L1603.5,689.9Z" fill="#b8ccff"/>
<rect x="1515.9" y="736.7" width="3" height="2.5" fill="#000"/>
<rect x="1528.6" y="742.4" width="3" height="2.5" fill="#000"/>
<rect x="1556.8" y="748.0" width="3" height="2.5" fill="#000"/>
<rect x="1585.0" y="738.1" width="3" height="2.5" fill="#000"/>
<rect x="1489.1" y="715.6" width="3" height="2.5" fill="#000"/>
<rect x="1497.5" y="731.1" width="3" height="2.5" fill="#000"/>
<rect x="1193.2" y="805.9" width="3" height="2.5" fill="#000"/>
<rect x="1283.0" y="928.7" width="3" height="2.5" fill="#000"/>
<rect x="1635.9" y="650.6" width="3" height="2.5" fill="#000"/>
<rect x="1545.5" y="755.1" width="3" height="2.5" fill="#000"/>
<rect x="1521.5" y="760.7" width="3" height="2.5" fill="#000"/>
<rect x="1373.3" y="875.1" width="3" height="2.5" fill="#000"/>
<rect x="1381.8" y="866.6" width="3" height="2.5" fill="#000"/>
<g transform="translate(1181.00,590.50)">
<line x1="89.50" y1="40.80" x2="89.50" y2="548.50" class="gv"/>
<line x1="168.20" y1="40.80" x2="168.20" y2="548.50" class="gv"/>
<line x1="246.90" y1="40.80" x2="246.90" y2="548.50" class="gv"/>
<line x1="325.60" y1="40.80" x2="325.60" y2="548.50" class="gv"/>
<line x1="404.30" y1="40.80" x2="404.30" y2="548.50" class="gv"/>
<line x1="483.00" y1="40.80" x2="483.00" y2="548.50" class="gv"/>
<line x1="13.00" y1="65.30" x2="486.00" y2="65.30" class="gh"/>
<line x1="13.00" y1="149.90" x2="486.00" y2="149.90" class="gh"/>
<line x1="13.00" y1="234.50" x2="486.00" y2="234.50" class="gh"/>
<line x1="13.00" y1="319.10" x2="486.00" y2="319.10" class="gh"/>
<line x1="13.00" y1="403.70" x2="486.00" y2="403.70" class="gh"/>
<line x1="13.00" y1="488.30" x2="486.00" y2="488.30" class="gh"/>
<path d="M13.00,185.70 L17.00,183.40 L21.00,181.09 L25.00,178.78 L29.00,176.47 L33.00,174.15 L37.00,171.83 L41.00,169.50 L45.00,167.17 L49.00,164.84 L53.00,162.50 L57.00,160.15 L61.00,157.81 L65.00,155.46 L69.00,153.10 L73.00,150.74 L77.00,148.38 L81.00,146.01 L85.00,143.64 L89.00,141.27 L93.00,138.89 L97.00,136.50 L101.00,134.12 L105.00,131.73 L109.00,129.33 L113.00,126.93 L117.00,124.53 L121.00,122.12 L125.00,119.71 L129.00,117.29 L133.00,114.87 L137.00,112.45 L141.00,110.02 L145.00,107.59 L149.00,105.15 L153.00,102.71 L157.00,100.27 L161.00,97.82 L165.00,95.37 L169.00,92.91 L173.00,90.45 L177.00,87.98 L181.00,85.52 L185.00,83.04 L189.00,80.57 L193.00,78.09 L197.00,75.60 L201.00,73.11 L205.00,70.62 L209.00,68.12 L213.00,65.62 L217.00,63.11 L221.00,60.61 L225.00,58.09 L229.00,55.57 L233.00,53.05 L237.00,50.53 L241.00,48.00 L245.00,45.46 L249.00,42.93 L252.35,40.80" class="sw"/>
<path d="M13.00,280.70 L17.00,278.40 L21.00,276.09 L25.00,273.78 L29.00,271.47 L33.00,269.15 L37.00,266.83 L41.00,264.50 L45.00,262.17 L49.00,259.84 L53.00,257.50 L57.00,255.15 L61.00,252.81 L65.00,250.46 L69.00,248.10 L73.00,245.74 L77.00,243.38 L81.00,241.01 L85.00,238.64 L89.00,236.27 L93.00,233.89 L97.00,231.50 L101.00,229.12 L105.00,226.73 L109.00,224.33 L113.00,221.93 L117.00,219.53 L121.00,217.12 L125.00,214.71 L129.00,212.29 L133.00,209.87 L137.00,207.45 L141.00,205.02 L145.00,202.59 L149.00,200.15 L153.00,197.71 L157.00,195.27 L161.00,192.82 L165.00,190.37 L169.00,187.91 L173.00,185.45 L177.00,182.98 L181.00,180.52 L185.00,178.04 L189.00,175.57 L193.00,173.09 L197.00,170.60 L201.00,168.11 L205.00,165.62 L209.00,163.12 L213.00,160.62 L217.00,158.11 L221.00,155.61 L225.00,153.09 L229.00,150.57 L233.00,148.05 L237.00,145.53 L241.00,143.00 L245.00,140.46 L249.00,137.93 L253.00,135.38 L257.00,132.84 L261.00,130.29 L265.00,127.73 L269.00,125.18 L273.00,122.61 L277.00,120.05 L281.00,117.48 L285.00,114.90 L289.00,112.33 L293.00,109.74 L297.00,107.16 L301.00,104.57 L305.00,101.97 L309.00,99.37 L313.00,96.77 L317.00,94.16 L321.00,91.55 L325.00,88.94 L329.00,86.32 L333.00,83.70 L337.00,81.07 L341.00,78.44 L345.00,75.80 L349.00,73.16 L353.00,70.52 L357.00,67.87 L361.00,65.22 L365.00,62.56 L369.00,59.90 L373.00,57.24 L377.00,54.57 L381.00,51.90 L385.00,49.23 L389.00,46.55 L393.00,43.86 L397.00,41.17 L397.55,40.80" class="sw"/>
<text x="89.50" y="297.90" font-size="12.00" text-anchor="middle">166</text>
<text x="168.20" y="297.90" font-size="12.00" text-anchor="middle">168</text>
<text x="246.90" y="297.90" font-size="12.00" text-anchor="middle">170</text>
<text x="325.60" y="297.90" font-size="12.00" text-anchor="middle">172</text>
<text x="404.30" y="297.90" font-size="12.00" text-anchor="middle">174</text>
<text x="483.00" y="297.90" font-size="12.00" text-anchor="middle">176</text>
<text x="258.00" y="65.80" font-size="12.00" text-anchor="start">-18</text>
<text x="258.00" y="150.40" font-size="12.00" text-anchor="start">-20</text>
<text x="258.00" y="235.00" font-size="12.00" text-anchor="start">-22</text>
<text x="258.00" y="319.60" font-size="12.00" text-anchor="start">-24</text>
<text x="258.00" y="404.20" font-size="12.00" text-anchor="start">-26</text>
<text x="258.00" y="488.80" font-size="12.00" text-anchor="start">-28</text>
<path d="M243.2,292.2h12.4v4.6h-12.4z M247.1,288.3h4.6v12.4h-4.6z" fill="#000"/>
<rect x="495.00" y="531.28" width="9.00" height="8.76" fill="#80e080"/>
<rect x="495.00" y="522.82" width="9.00" height="8.76" fill="#7ad87a"/>
<rect x="495.00" y="514.36" width="9.00" height="8.76" fill="#74d074"/>
<rect x="495.00" y="505.90" width="9.00" height="8.76" fill="#70cc70"/>
<rect x="495.00" y="497.44" width="9.00" height="8.76" fill="#6cc46c"/>
<rect x="495.00" y="488.98" width="9.00" height="8.76" fill="#68c068"/>
<rect x="495.00" y="480.52" width="9.00" height="8.76" fill="#66bb66"/>
<rect x="495.00" y="472.06" width="9.00" height="8.76" fill="#ccd4ff"/>
<rect x="495.00" y="463.60" width="9.00" height="8.76" fill="#b8ccff"/>
<rect x="495.00" y="455.14" width="9.00" height="8.76" fill="#b0c8ff"/>
<rect x="495.00" y="446.68" width="9.00" height="8.76" fill="#99c4ff"/>
<rect x="495.00" y="438.22" width="9.00" height="8.76" fill="#80bbff"/>
<rect x="495.00" y="429.76" width="9.00" height="8.76" fill="#66b0ff"/>
<rect x="495.00" y="421.30" width="9.00" height="8.76" fill="#55aaff"/>
<rect x="495.00" y="412.84" width="9.00" height="8.76" fill="#44aaff"/>
<rect x="495.00" y="404.38" width="9.00" height="8.76" fill="#4488ff"/>
<rect x="495.00" y="395.92" width="9.00" height="8.76" fill="#4477ff"/>
<rect x="495.00" y="387.46" width="9.00" height="8.76" fill="#4466ff"/>
<rect x="495.00" y="379.00" width="9.00" height="8.76" fill="#3a3aff"/>
<rect x="495.00" y="370.54" width="9.00" height="8.76" fill="#2a2aff"/>
<rect x="495.00" y="362.08" width="9.00" height="8.76" fill="#0000ff"/>
<rect x="495.00" y="353.62" width="9.00" height="8.76" fill="#0000ff"/>
<rect x="495.00" y="345.16" width="9.00" height="8.76" fill="#0000f0"/>
<rect x="495.00" y="336.70" width="9.00" height="8.76" fill="#0000e4"/>
<rect x="495.00" y="328.24" width="9.00" height="8.76" fill="#0000e0"/>
<rect x="495.00" y="319.78" width="9.00" height="8.76" fill="#0000d8"/>
<rect x="495.00" y="311.32" width="9.00" height="8.76" fill="#0000cc"/>
<rect x="495.00" y="302.86" width="9.00" height="8.76" fill="#ffff00"/>
<rect x="495.00" y="294.40" width="9.00" height="8.76" fill="#ffff00"/>
<rect x="495.00" y="285.94" width="9.00" height="8.76" fill="#fff200"/>
<rect x="495.00" y="277.48" width="9.00" height="8.76" fill="#ffe800"/>
<rect x="495.00" y="269.02" width="9.00" height="8.76" fill="#ffe400"/>
<rect x="495.00" y="260.56" width="9.00" height="8.76" fill="#ffdd00"/>
<rect x="495.00" y="252.10" width="9.00" height="8.76" fill="#ffd000"/>
<rect x="495.00" y="243.64" width="9.00" height="8.76" fill="#ff8800"/>
<rect x="495.00" y="235.18" width="9.00" height="8.76" fill="#ff8000"/>
<rect x="495.00" y="226.72" width="9.00" height="8.76" fill="#ff7a00"/>
<rect x="495.00" y="218.26" width="9.00" height="8.76" fill="#ff7400"/>
<rect x="495.00" y="209.80" width="9.00" height="8.76" fill="#ff7000"/>
<rect x="495.00" y="201.34" width="9.00" height="8.76" fill="#ff6e00"/>
<rect x="495.00" y="192.88" width="9.00" height="8.76" fill="#ff4400"/>
<rect x="495.00" y="184.42" width="9.00" height="8.76" fill="#ff3a00"/>
<rect x="495.00" y="175.96" width="9.00" height="8.76" fill="#ff3300"/>
<rect x="495.00" y="167.50" width="9.00" height="8.76" fill="#ff2a00"/>
<rect x="495.00" y="159.04" width="9.00" height="8.76" fill="#ff2200"/>
<rect x="495.00" y="150.58" width="9.00" height="8.76" fill="#ff1800"/>
<rect x="495.00" y="142.12" width="9.00" height="8.76" fill="#ff1100"/>
<rect x="495.00" y="133.66" width="9.00" height="8.76" fill="#cc0000"/>
<rect x="495.00" y="125.20" width="9.00" height="8.76" fill="#c40000"/>
<rect x="495.00" y="116.74" width="9.00" height="8.76" fill="#bc0000"/>
<rect x="495.00" y="108.28" width="9.00" height="8.76" fill="#b80000"/>
<rect x="495.00" y="99.82" width="9.00" height="8.76" fill="#aa0000"/>
<rect x="495.00" y="91.36" width="9.00" height="8.76" fill="#a40400"/>
<rect x="495.00" y="82.90" width="9.00" height="8.76" fill="#a00800"/>
<rect x="495.00" y="74.44" width="9.00" height="8.76" fill="#600f0a"/>
<rect x="495.00" y="65.98" width="9.00" height="8.76" fill="#600f0a"/>
<rect x="495.00" y="57.52" width="9.00" height="8.76" fill="#581414"/>
<rect x="495.00" y="49.06" width="9.00" height="8.76" fill="#581414"/>
<rect x="495.00" y="40.60" width="9.00" height="8.76" fill="#581414"/>
<line x1="504" y1="91.36" x2="506.3" y2="91.36" stroke="#000" stroke-width="0.9"/>
<text x="523.70" y="100.06" font-size="20.00" text-anchor="middle">54</text>
<line x1="504" y1="142.12" x2="506.3" y2="142.12" stroke="#000" stroke-width="0.9"/>
<text x="523.70" y="150.82" font-size="20.00" text-anchor="middle">48</text>
<line x1="504" y1="192.88" x2="506.3" y2="192.88" stroke="#000" stroke-width="0.9"/>
<text x="523.70" y="201.58" font-size="20.00" text-anchor="middle">42</text>
<line x1="504" y1="243.64" x2="506.3" y2="243.64" stroke="#000" stroke-width="0.9"/>
<text x="523.70" y="252.34" font-size="20.00" text-anchor="middle">36</text>
<line x1="504" y1="294.40" x2="506.3" y2="294.40" stroke="#000" stroke-width="0.9"/>
<text x="523.70" y="303.10" font-size="20.00" text-anchor="middle">30</text>
<line x1="504" y1="345.16" x2="506.3" y2="345.16" stroke="#000" stroke-width="0.9"/>
<text x="523.70" y="353.86" font-size="20.00" text-anchor="middle">24</text>
<line x1="504" y1="395.92" x2="506.3" y2="395.92" stroke="#000" stroke-width="0.9"/>
<text x="523.70" y="404.62" font-size="20.00" text-anchor="middle">18</text>
<line x1="504" y1="446.68" x2="506.3" y2="446.68" stroke="#000" stroke-width="0.9"/>
<text x="523.70" y="455.38" font-size="20.00" text-anchor="middle">12</text>
<line x1="504" y1="497.44" x2="506.3" y2="497.44" stroke="#000" stroke-width="0.9"/>
<text x="523.70" y="506.14" font-size="20.00" text-anchor="middle">6</text>
<line x1="504" y1="548.20" x2="506.3" y2="548.20" stroke="#000" stroke-width="0.9"/>
<text x="523.70" y="556.90" font-size="20.00" text-anchor="middle">0</text>
<text x="37.00" y="65.70" font-size="25.00" text-anchor="start">2A12 rainrate (mm/hr)</text>
<text x="438.50" y="523.20" font-size="30.00" text-anchor="start">(f)</text>
</g>
<defs><clipPath id="cg"><path d="M12.7,1251.7 L39.5,1236.2 L64.9,1222.1 L485.6,1222.1 L485.6,1275.4 L404.3,1334.7 L325.5,1385.5 L247.0,1434.9 L214.6,1453.6 L168.3,1482.9 L89.5,1528.1 L12.7,1571.9Z"/></clipPath></defs>
<path d="M12.7,1251.7 L39.5,1236.2 L64.9,1222.1 L485.6,1222.1 L485.6,1275.4 L404.3,1334.7 L325.5,1385.5 L247.0,1434.9 L214.6,1453.6 L168.3,1482.9 L89.5,1528.1 L12.7,1571.9Z" fill="#cacaca"/>
<g clip-path="url(#cg)">
<path d="M70.6,1279.9 L169.4,1279.9 L254.1,1333.6 L225.9,1398.5 L141.2,1412.6 L70.6,1373.1Z" fill="#dadada" filter="url(#bl)"/>
<path d="M12.7,1426.7 L197.6,1418.3 L169.4,1482.9 L12.7,1571.9Z" fill="#c2c2c2" opacity="0.7" filter="url(#bl)"/>
<path d="M12.7,1251.7 L70.6,1251.7 L70.6,1342.0 L12.7,1342.0Z" fill="#c4c4c4" opacity="0.7" filter="url(#bl)"/>
<path d="M220.2,1222.1 L485.6,1222.1 L485.6,1275.4 L404.3,1334.7 L325.5,1385.5 L310.6,1373.1 L296.4,1350.5 L276.7,1333.6 L259.7,1316.6 L242.8,1299.7 L225.9,1279.9 L208.9,1260.2 L197.6,1248.9Z" fill="#5d8cff" stroke="#000" stroke-width="1.10" stroke-linejoin="round"/>
<path d="M268.2,1339.2 L282.3,1344.9 L302.1,1356.2 L307.7,1370.3 L299.3,1373.1 L282.3,1361.8 L271.0,1350.5Z" fill="#c4c4c4" stroke="#000" stroke-width="1.10" stroke-linejoin="round"/>
<path d="M220.2,1222.1 L248.4,1222.1 L242.8,1240.4 L231.5,1243.2 L220.2,1237.6Z" fill="#70c870"/>
<path d="M203.3,1251.7 L220.2,1257.3 L242.8,1279.9 L265.4,1299.7 L282.3,1308.2 L276.7,1316.6 L254.1,1305.3 L231.5,1285.6 L211.7,1268.6Z" fill="#1a2cf0"/>
<path d="M453.7,1221.4 L485.9,1221.4 L485.9,1272.2 L475.2,1255.3 L462.8,1234.9Z" fill="#8ab8ff"/>
<path d="M323.9,1247.4 L332.9,1249.6 L337.4,1260.9 L341.9,1276.7 L353.2,1297.1 L360.0,1319.6 L353.2,1319.6 L344.2,1303.8 L335.2,1290.3 L327.3,1276.7Z" fill="#8cc8a0"/>
<path d="M242.6,1221.4 L269.7,1221.4 L273.1,1231.6 L278.7,1245.1 L325.0,1246.2 L327.3,1260.9 L320.5,1276.7 L323.9,1290.3 L337.4,1315.1 L332.9,1320.8 L318.2,1310.6 L303.6,1299.3 L278.7,1285.8 L256.1,1271.1 L244.8,1251.9 L236.9,1231.6Z M335.2,1221.4 L361.1,1221.4 L369.1,1233.8 L367.9,1244.0 L357.8,1242.8 L346.5,1239.5 L339.7,1232.7Z M351.0,1281.2 L362.3,1283.5 L375.8,1299.3 L389.4,1315.1 L402.9,1324.2 L409.7,1326.4 L400.7,1330.9 L387.1,1326.4 L371.3,1311.7 L358.9,1297.1Z M261.8,1329.8 L278.7,1330.9 L306.9,1346.7 L321.6,1358.0 L335.2,1369.3 L339.7,1378.0 L261.8,1378.0Z" fill="#c6c6c6" stroke="#000" stroke-width="1.10" stroke-linejoin="round"/>
<path d="M337.4,1246.2 L346.5,1248.5 L357.8,1265.4 L371.3,1283.5 L378.1,1299.3 L382.6,1316.2 L373.6,1317.4 L364.5,1299.3 L353.2,1281.2 L343.1,1263.2Z M419.9,1221.4 L431.2,1221.4 L430.0,1246.2 L436.8,1263.2 L445.8,1281.2 L454.9,1294.8 L445.8,1299.3 L436.8,1291.4 L427.8,1274.5 L422.1,1257.5 L421.0,1240.6Z" fill="#1a30f0"/>
<path d="M346.5,1255.3 L349.9,1256.4 L358.9,1265.4 L356.6,1267.7 L348.7,1260.9Z M364.5,1267.7 L367.9,1268.8 L370.2,1284.6 L367.9,1285.8Z" fill="#ffee00"/>
<path d="M395.0,1221.4 L418.7,1221.4 L421.0,1236.1 L416.5,1239.5 L407.4,1236.1 L398.4,1230.4Z M319.4,1238.3 L325.0,1239.5 L326.1,1247.4 L321.6,1248.5Z" fill="#ff8a00" stroke="#000" stroke-width="1.00" stroke-linejoin="round"/>
<path d="M382.6,1242.8 L393.9,1250.7 L409.7,1251.9 L421.0,1258.7 L432.3,1284.6 L435.7,1302.7 L432.3,1312.9 L423.3,1318.5 L413.1,1311.7 L401.8,1297.1 L388.2,1281.2 L386.0,1263.2Z" fill="#ffd000" stroke="#000" stroke-width="1.10" stroke-linejoin="round"/>
<path d="M386.0,1247.4 L395.0,1253.0 L408.6,1254.1 L418.7,1260.9 L430.0,1285.8 L432.9,1302.7 L430.0,1310.6 L423.3,1315.1 L414.2,1308.3 L402.9,1294.8 L390.5,1280.1 L388.2,1263.2Z" fill="#ff8a00"/>
<path d="M393.9,1254.1 L402.9,1253.0 L412.0,1255.3 L419.9,1268.8 L428.9,1285.8 L432.3,1297.1 L430.0,1310.6 L423.3,1311.7 L417.6,1302.7 L405.2,1283.5 L398.4,1266.6Z" fill="#d81a10" stroke="#000" stroke-width="1.00" stroke-linejoin="round"/>
<path d="M405.2,1272.2 L414.2,1274.5 L425.5,1291.4 L428.9,1306.1 L423.3,1308.3 L416.5,1297.1 L408.6,1283.5Z" fill="#b41010"/>
<path d="M430.0,1221.4 L448.1,1221.4 L453.7,1229.3 L459.4,1229.3 L462.8,1238.3 L472.9,1251.9 L482.0,1265.4 L485.9,1274.5 L482.0,1279.0 L469.6,1286.9 L458.3,1292.5 L453.7,1281.2 L442.5,1263.2 L432.3,1246.2 L428.9,1234.9Z" fill="#ffd000" stroke="#000" stroke-width="1.10" stroke-linejoin="round"/>
<path d="M434.6,1221.4 L447.0,1221.4 L452.6,1231.6 L459.4,1232.7 L461.7,1240.6 L470.7,1253.0 L479.7,1265.4 L483.1,1274.5 L479.7,1277.9 L469.6,1284.6 L459.4,1288.0 L454.9,1279.0 L444.7,1263.2 L434.6,1246.2 L432.3,1234.9Z" fill="#ff8a00"/>
<path d="M441.3,1242.8 L450.4,1239.5 L457.1,1244.0 L462.8,1254.1 L470.7,1263.2 L475.2,1272.2 L476.3,1277.9 L468.4,1279.0 L461.7,1276.7 L457.1,1263.2 L448.1,1254.1Z" fill="#d81a10" stroke="#000" stroke-width="1.00" stroke-linejoin="round"/>
<path d="M64.9,1222.1 L220.2,1222.1 L208.9,1234.8 L197.6,1251.7 L183.5,1268.6 L172.2,1267.2 L158.1,1254.5 L135.5,1247.5 L112.9,1244.6 L93.2,1240.4 L73.4,1234.8 L56.5,1231.9 L48.0,1234.8Z" fill="#3048ff" stroke="#000" stroke-width="1.10" stroke-linejoin="round"/>
<path d="M83.0,1222.1 L127.0,1222.1 L158.1,1230.5 L155.3,1236.2 L132.7,1232.5 L112.9,1228.6 L93.2,1226.3Z" fill="#ffd800" stroke="#000" stroke-width="1.00" stroke-linejoin="round"/>
<path d="M84.7,1222.1 L124.2,1222.1 L132.7,1226.3 L118.6,1227.7 L96.0,1225.2Z" fill="#ff8c00"/>
<path d="M12.8,1252.7 L18.5,1248.5 L24.1,1249.9 L22.7,1261.2 L15.6,1265.4 L12.8,1264.0Z M53.8,1249.9 L58.0,1249.2 L59.4,1254.1 L55.2,1255.5 L52.3,1253.4Z M63.6,1258.4 L66.5,1261.2 L69.3,1271.1 L72.1,1280.9 L74.9,1286.6 L73.5,1293.6 L67.9,1290.8 L65.1,1282.3 L62.2,1271.1Z M76.3,1245.6 L83.4,1248.5 L91.9,1252.7 L101.8,1256.9 L111.6,1262.6 L122.9,1268.2 L134.2,1275.3 L145.5,1282.3 L149.8,1288.0 L141.3,1286.6 L131.4,1282.3 L120.1,1276.7 L108.8,1271.1 L97.5,1265.4 L86.2,1259.8 L79.2,1254.1 L74.9,1249.9Z M115.9,1299.3 L122.9,1293.6 L130.0,1290.8 L137.0,1296.5 L142.7,1302.1 L144.1,1304.9 L134.2,1302.1 L125.8,1300.7 L118.7,1302.1Z M146.9,1292.2 L156.8,1295.1 L165.3,1297.9 L176.6,1302.1 L185.0,1306.3 L190.7,1309.2 L187.9,1313.4 L179.4,1310.6 L168.1,1306.3 L156.8,1300.7 L148.3,1296.5Z M172.3,1289.4 L179.4,1292.2 L187.9,1299.3 L192.1,1307.8 L187.9,1307.8 L179.4,1302.1 L173.7,1296.5Z M176.6,1309.2 L183.6,1310.6 L190.7,1319.1 L187.9,1321.9 L180.8,1319.1 L178.0,1314.8Z M193.5,1306.3 L206.2,1306.3 L210.5,1317.6 L210.5,1331.8 L204.8,1333.2 L199.2,1324.7 L193.5,1319.1Z M192.1,1293.6 L199.2,1295.1 L204.8,1299.3 L200.6,1300.7 L194.9,1297.9Z M182.2,1327.5 L189.3,1328.9 L190.7,1336.0 L185.0,1338.8 L180.8,1333.2Z M161.0,1338.8 L169.5,1338.8 L176.6,1343.0 L170.9,1344.5 L162.5,1343.0Z M100.3,1338.8 L108.8,1336.0 L117.3,1334.6 L125.8,1337.4 L127.2,1343.0 L122.9,1351.5 L117.3,1357.2 L111.6,1355.8 L106.0,1352.9 L101.8,1348.7 L98.9,1344.5Z M91.9,1347.3 L98.9,1347.3 L101.8,1352.9 L103.2,1361.4 L97.5,1361.4 L93.3,1355.8Z M83.4,1355.8 L89.1,1354.3 L90.5,1362.8 L87.6,1371.3 L83.4,1369.9Z M12.8,1310.6 L18.5,1313.4 L24.1,1319.1 L26.9,1327.5 L25.5,1331.8 L17.1,1330.3 L12.8,1326.1Z M21.3,1344.5 L25.5,1347.3 L32.6,1354.3 L39.6,1360.0 L42.5,1367.0 L36.8,1372.7 L29.8,1369.9 L22.7,1364.2 L19.9,1355.8Z M50.9,1350.1 L56.6,1351.5 L60.8,1357.2 L60.8,1362.8 L55.2,1364.2 L50.9,1358.6Z M48.1,1372.7 L55.2,1372.7 L59.4,1379.8 L65.1,1386.8 L63.6,1393.9 L56.6,1393.9 L50.9,1385.4Z M62.2,1375.5 L69.3,1375.5 L73.5,1379.8 L70.7,1385.4 L65.1,1385.4Z M26.9,1334.6 L34.0,1334.6 L35.4,1338.8 L29.8,1340.2Z M100.3,1382.6 L104.6,1385.4 L106.0,1391.0 L101.8,1392.5 L98.9,1388.2Z M108.8,1391.0 L114.5,1391.0 L115.9,1393.9 L110.2,1394.6Z M122.9,1388.2 L130.0,1389.6 L132.8,1393.9 L128.6,1395.3 L124.3,1392.5Z M145.5,1413.6 L158.2,1410.8 L172.3,1409.4 L186.5,1412.2 L197.7,1416.5 L193.5,1419.3 L179.4,1417.9 L165.3,1416.5 L151.2,1416.5Z M178.0,1357.2 L185.0,1357.2 L192.1,1358.6 L189.3,1364.2 L185.0,1372.7 L179.4,1374.1 L176.6,1369.9 L182.2,1364.2Z M230.2,1321.9 L241.5,1320.5 L250.0,1327.5 L260.0,1330.3 L260.0,1338.8 L250.0,1337.4 L238.7,1331.8 L231.6,1327.5Z M26.9,1423.5 L34.0,1426.3 L38.2,1432.0 L34.0,1433.4 L28.4,1429.2Z" fill="#74c874" stroke="#000" stroke-width="1.10" stroke-linejoin="round"/>
<path d="M14.2,1254.1 L19.9,1251.3 L21.3,1258.4 L15.6,1262.6Z M65.1,1264.0 L67.2,1268.2 L70.0,1279.5 L72.1,1288.0 L69.3,1286.6 L66.5,1278.1Z M83.4,1251.3 L94.7,1255.5 L108.8,1262.6 L122.9,1270.4 L137.0,1279.5 L144.1,1285.2 L134.2,1282.3 L120.1,1275.3 L106.0,1268.2 L91.9,1261.2 L82.0,1255.5Z M120.1,1297.9 L127.2,1294.3 L134.2,1297.9 L138.5,1302.1 L128.6,1300.7Z M151.2,1294.3 L165.3,1299.3 L179.4,1304.9 L186.5,1309.9 L176.6,1307.8 L162.5,1302.1 L151.2,1297.2Z M196.3,1310.6 L204.8,1309.2 L207.6,1319.1 L207.6,1328.9 L202.0,1326.1 L197.7,1317.6Z M106.0,1340.2 L115.9,1338.8 L122.9,1341.6 L120.1,1350.1 L113.0,1351.5 L107.4,1347.3Z M84.8,1358.6 L88.3,1357.2 L89.1,1364.2 L86.2,1368.5Z M14.2,1314.8 L19.9,1317.6 L23.4,1324.7 L18.5,1327.5 L14.2,1323.3Z M29.8,1357.2 L35.4,1360.0 L38.2,1365.6 L32.6,1367.0Z M163.9,1339.5 L170.9,1340.2 L173.7,1342.8 L165.3,1342.3Z M179.4,1359.3 L187.9,1359.3 L185.0,1367.0 L180.1,1369.9Z M183.6,1330.3 L187.9,1331.8 L187.2,1336.0 L183.6,1334.6Z" fill="#7db8ff"/>
<path d="M108.8,1340.9 L117.3,1340.2 L118.7,1345.9 L111.6,1347.3Z M158.2,1297.9 L168.1,1302.1 L166.7,1304.2 L158.2,1300.7Z" fill="#2a48ff"/>
<path d="M41.3,1257.3h2.4v2.2h-2.4z M54.0,1264.3h2.4v2.2h-2.4z M39.9,1274.2h2.4v2.2h-2.4z M76.6,1268.5h2.4v2.2h-2.4z M78.0,1277.0h2.4v2.2h-2.4z M83.6,1303.8h2.4v2.2h-2.4z M87.9,1319.4h2.4v2.2h-2.4z M96.3,1315.1h2.4v2.2h-2.4z M104.8,1318.0h2.4v2.2h-2.4z M131.6,1310.9h2.4v2.2h-2.4z M133.0,1320.8h2.4v2.2h-2.4z M135.8,1329.2h2.4v2.2h-2.4z M141.5,1336.3h2.4v2.2h-2.4z M126.0,1357.5h2.4v2.2h-2.4z M127.4,1371.6h2.4v2.2h-2.4z M133.0,1375.8h2.4v2.2h-2.4z M106.2,1377.2h2.4v2.2h-2.4z M158.4,1389.9h2.4v2.2h-2.4z M165.5,1387.1h2.4v2.2h-2.4z M214.9,1288.3h2.4v2.2h-2.4z M214.9,1318.0h2.4v2.2h-2.4z M248.8,1308.1h2.4v2.2h-2.4z M25.7,1408.3h2.4v2.2h-2.4z M48.3,1429.5h2.4v2.2h-2.4z M138.7,1401.2h2.4v2.2h-2.4z M14.4,1365.9h2.4v2.2h-2.4z M20.1,1367.4h2.4v2.2h-2.4z M48.3,1336.3h2.4v2.2h-2.4z M42.7,1333.5h2.4v2.2h-2.4z M96.3,1295.4h2.4v2.2h-2.4z M102.0,1298.2h2.4v2.2h-2.4z M107.6,1301.0h2.4v2.2h-2.4z M99.1,1301.0h2.4v2.2h-2.4z M93.5,1309.5h2.4v2.2h-2.4z M174.0,1277.0h2.4v2.2h-2.4z M182.4,1278.4h2.4v2.2h-2.4z M140.1,1260.1h2.4v2.2h-2.4z M116.1,1257.3h2.4v2.2h-2.4z" fill="#000"/>
<path d="M225.9,1333.6 L248.4,1336.4 L268.2,1347.7 L282.3,1359.0 L299.3,1367.5 L325.5,1385.5 L247.0,1434.9 L214.6,1453.6 L210.3,1440.9 L214.6,1423.9 L203.3,1409.8 L197.6,1395.7 L183.5,1381.6 L197.6,1378.7 L214.6,1381.6 L228.7,1373.1 L237.2,1356.2 L234.3,1344.9Z" fill="#70c870" stroke="#000" stroke-width="1.10" stroke-linejoin="round"/>
<path d="M234.3,1339.2 L254.1,1342.0 L271.0,1353.3 L285.1,1364.6 L304.9,1375.9 L319.0,1385.5 L247.0,1433.8 L223.0,1449.3 L220.2,1435.2 L225.9,1418.3 L220.2,1398.5 L225.9,1384.4 L237.2,1367.5 L242.8,1350.5Z" fill="#4a78ff"/>
<path d="M248.4,1373.1 L268.2,1384.4 L282.3,1395.7 L265.4,1412.6 L248.4,1423.9 L234.3,1435.2 L231.5,1412.6 L240.0,1390.0Z" fill="#1a2cf0"/>
<path d="M225.9,1432.4 L231.5,1418.3 L245.6,1409.8 L254.1,1401.3 L256.9,1398.5 L262.6,1407.0 L271.0,1412.6 L278.1,1414.0 L247.0,1434.9 L231.5,1442.3Z" fill="#ff8a00" stroke="#000" stroke-width="1.10" stroke-linejoin="round"/>
<path d="M234.3,1429.6 L240.0,1425.3 L245.6,1429.6 L237.2,1438.0Z" fill="#d01010" stroke="#000" stroke-width="1.00" stroke-linejoin="round"/>
</g>
<g transform="translate(0.00,1181.00)">
<line x1="89.50" y1="40.80" x2="89.50" y2="548.50" class="gv"/>
<line x1="168.20" y1="40.80" x2="168.20" y2="548.50" class="gv"/>
<line x1="246.90" y1="40.80" x2="246.90" y2="548.50" class="gv"/>
<line x1="325.60" y1="40.80" x2="325.60" y2="548.50" class="gv"/>
<line x1="404.30" y1="40.80" x2="404.30" y2="548.50" class="gv"/>
<line x1="483.00" y1="40.80" x2="483.00" y2="548.50" class="gv"/>
<line x1="13.00" y1="65.30" x2="486.00" y2="65.30" class="gh"/>
<line x1="13.00" y1="149.90" x2="486.00" y2="149.90" class="gh"/>
<line x1="13.00" y1="234.50" x2="486.00" y2="234.50" class="gh"/>
<line x1="13.00" y1="319.10" x2="486.00" y2="319.10" class="gh"/>
<line x1="13.00" y1="403.70" x2="486.00" y2="403.70" class="gh"/>
<line x1="13.00" y1="488.30" x2="486.00" y2="488.30" class="gh"/>
<path d="M13.00,185.70 L17.00,183.40 L21.00,181.09 L25.00,178.78 L29.00,176.47 L33.00,174.15 L37.00,171.83 L41.00,169.50 L45.00,167.17 L49.00,164.84 L53.00,162.50 L57.00,160.15 L61.00,157.81 L65.00,155.46 L69.00,153.10 L73.00,150.74 L77.00,148.38 L81.00,146.01 L85.00,143.64 L89.00,141.27 L93.00,138.89 L97.00,136.50 L101.00,134.12 L105.00,131.73 L109.00,129.33 L113.00,126.93 L117.00,124.53 L121.00,122.12 L125.00,119.71 L129.00,117.29 L133.00,114.87 L137.00,112.45 L141.00,110.02 L145.00,107.59 L149.00,105.15 L153.00,102.71 L157.00,100.27 L161.00,97.82 L165.00,95.37 L169.00,92.91 L173.00,90.45 L177.00,87.98 L181.00,85.52 L185.00,83.04 L189.00,80.57 L193.00,78.09 L197.00,75.60 L201.00,73.11 L205.00,70.62 L209.00,68.12 L213.00,65.62 L217.00,63.11 L221.00,60.61 L225.00,58.09 L229.00,55.57 L233.00,53.05 L237.00,50.53 L241.00,48.00 L245.00,45.46 L249.00,42.93 L252.35,40.80" class="sw"/>
<path d="M13.00,280.70 L17.00,278.40 L21.00,276.09 L25.00,273.78 L29.00,271.47 L33.00,269.15 L37.00,266.83 L41.00,264.50 L45.00,262.17 L49.00,259.84 L53.00,257.50 L57.00,255.15 L61.00,252.81 L65.00,250.46 L69.00,248.10 L73.00,245.74 L77.00,243.38 L81.00,241.01 L85.00,238.64 L89.00,236.27 L93.00,233.89 L97.00,231.50 L101.00,229.12 L105.00,226.73 L109.00,224.33 L113.00,221.93 L117.00,219.53 L121.00,217.12 L125.00,214.71 L129.00,212.29 L133.00,209.87 L137.00,207.45 L141.00,205.02 L145.00,202.59 L149.00,200.15 L153.00,197.71 L157.00,195.27 L161.00,192.82 L165.00,190.37 L169.00,187.91 L173.00,185.45 L177.00,182.98 L181.00,180.52 L185.00,178.04 L189.00,175.57 L193.00,173.09 L197.00,170.60 L201.00,168.11 L205.00,165.62 L209.00,163.12 L213.00,160.62 L217.00,158.11 L221.00,155.61 L225.00,153.09 L229.00,150.57 L233.00,148.05 L237.00,145.53 L241.00,143.00 L245.00,140.46 L249.00,137.93 L253.00,135.38 L257.00,132.84 L261.00,130.29 L265.00,127.73 L269.00,125.18 L273.00,122.61 L277.00,120.05 L281.00,117.48 L285.00,114.90 L289.00,112.33 L293.00,109.74 L297.00,107.16 L301.00,104.57 L305.00,101.97 L309.00,99.37 L313.00,96.77 L317.00,94.16 L321.00,91.55 L325.00,88.94 L329.00,86.32 L333.00,83.70 L337.00,81.07 L341.00,78.44 L345.00,75.80 L349.00,73.16 L353.00,70.52 L357.00,67.87 L361.00,65.22 L365.00,62.56 L369.00,59.90 L373.00,57.24 L377.00,54.57 L381.00,51.90 L385.00,49.23 L389.00,46.55 L393.00,43.86 L397.00,41.17 L397.55,40.80" class="sw"/>
<text x="89.50" y="297.90" font-size="12.00" text-anchor="middle">166</text>
<text x="168.20" y="297.90" font-size="12.00" text-anchor="middle">168</text>
<text x="246.90" y="297.90" font-size="12.00" text-anchor="middle">170</text>
<text x="325.60" y="297.90" font-size="12.00" text-anchor="middle">172</text>
<text x="404.30" y="297.90" font-size="12.00" text-anchor="middle">174</text>
<text x="483.00" y="297.90" font-size="12.00" text-anchor="middle">176</text>
<text x="258.00" y="65.80" font-size="12.00" text-anchor="start">-18</text>
<text x="258.00" y="150.40" font-size="12.00" text-anchor="start">-20</text>
<text x="258.00" y="235.00" font-size="12.00" text-anchor="start">-22</text>
<text x="258.00" y="319.60" font-size="12.00" text-anchor="start">-24</text>
<text x="258.00" y="404.20" font-size="12.00" text-anchor="start">-26</text>
<text x="258.00" y="488.80" font-size="12.00" text-anchor="start">-28</text>
<path d="M243.2,292.2h12.4v4.6h-12.4z M247.1,288.3h4.6v12.4h-4.6z" fill="#000"/>
<rect x="495.00" y="531.28" width="9.00" height="8.76" fill="#f4f4f4"/>
<rect x="495.00" y="522.82" width="9.00" height="8.76" fill="#ececec"/>
<rect x="495.00" y="514.36" width="9.00" height="8.76" fill="#e4e4e4"/>
<rect x="495.00" y="505.90" width="9.00" height="8.76" fill="#dcdcdc"/>
<rect x="495.00" y="497.44" width="9.00" height="8.76" fill="#d5d5d5"/>
<rect x="495.00" y="488.98" width="9.00" height="8.76" fill="#cdcdcd"/>
<rect x="495.00" y="480.52" width="9.00" height="8.76" fill="#c5c5c5"/>
<rect x="495.00" y="472.06" width="9.00" height="8.76" fill="#bdbdbd"/>
<rect x="495.00" y="463.60" width="9.00" height="8.76" fill="#b5b5b5"/>
<rect x="495.00" y="455.14" width="9.00" height="8.76" fill="#adadad"/>
<rect x="495.00" y="446.68" width="9.00" height="8.76" fill="#a6a6a6"/>
<rect x="495.00" y="438.22" width="9.00" height="8.76" fill="#9e9e9e"/>
<rect x="495.00" y="429.76" width="9.00" height="8.76" fill="#969696"/>
<rect x="495.00" y="421.30" width="9.00" height="8.76" fill="#8e8e8e"/>
<rect x="495.00" y="412.84" width="9.00" height="8.76" fill="#80e080"/>
<rect x="495.00" y="404.38" width="9.00" height="8.76" fill="#78d878"/>
<rect x="495.00" y="395.92" width="9.00" height="8.76" fill="#70cc70"/>
<rect x="495.00" y="387.46" width="9.00" height="8.76" fill="#68c068"/>
<rect x="495.00" y="379.00" width="9.00" height="8.76" fill="#66bb66"/>
<rect x="495.00" y="370.54" width="9.00" height="8.76" fill="#d0d8ff"/>
<rect x="495.00" y="362.08" width="9.00" height="8.76" fill="#b0ccff"/>
<rect x="495.00" y="353.62" width="9.00" height="8.76" fill="#99c8ff"/>
<rect x="495.00" y="345.16" width="9.00" height="8.76" fill="#80c0ff"/>
<rect x="495.00" y="336.70" width="9.00" height="8.76" fill="#66b4ff"/>
<rect x="495.00" y="328.24" width="9.00" height="8.76" fill="#4aaaff"/>
<rect x="495.00" y="319.78" width="9.00" height="8.76" fill="#4488ff"/>
<rect x="495.00" y="311.32" width="9.00" height="8.76" fill="#4466ff"/>
<rect x="495.00" y="302.86" width="9.00" height="8.76" fill="#3a3aff"/>
<rect x="495.00" y="294.40" width="9.00" height="8.76" fill="#2a2aff"/>
<rect x="495.00" y="285.94" width="9.00" height="8.76" fill="#0000ff"/>
<rect x="495.00" y="277.48" width="9.00" height="8.76" fill="#0000f0"/>
<rect x="495.00" y="269.02" width="9.00" height="8.76" fill="#0000e4"/>
<rect x="495.00" y="260.56" width="9.00" height="8.76" fill="#0000d8"/>
<rect x="495.00" y="252.10" width="9.00" height="8.76" fill="#0000cc"/>
<rect x="495.00" y="243.64" width="9.00" height="8.76" fill="#ffff00"/>
<rect x="495.00" y="235.18" width="9.00" height="8.76" fill="#fff200"/>
<rect x="495.00" y="226.72" width="9.00" height="8.76" fill="#ffe800"/>
<rect x="495.00" y="218.26" width="9.00" height="8.76" fill="#ffdd00"/>
<rect x="495.00" y="209.80" width="9.00" height="8.76" fill="#ffd000"/>
<rect x="495.00" y="201.34" width="9.00" height="8.76" fill="#ff8800"/>
<rect x="495.00" y="192.88" width="9.00" height="8.76" fill="#ff8000"/>
<rect x="495.00" y="184.42" width="9.00" height="8.76" fill="#ff7a00"/>
<rect x="495.00" y="175.96" width="9.00" height="8.76" fill="#ff7400"/>
<rect x="495.00" y="167.50" width="9.00" height="8.76" fill="#ff6e00"/>
<rect x="495.00" y="159.04" width="9.00" height="8.76" fill="#ff4400"/>
<rect x="495.00" y="150.58" width="9.00" height="8.76" fill="#ff3a00"/>
<rect x="495.00" y="142.12" width="9.00" height="8.76" fill="#ff3300"/>
<rect x="495.00" y="133.66" width="9.00" height="8.76" fill="#ff2200"/>
<rect x="495.00" y="125.20" width="9.00" height="8.76" fill="#ff1100"/>
<rect x="495.00" y="116.74" width="9.00" height="8.76" fill="#cc0000"/>
<rect x="495.00" y="108.28" width="9.00" height="8.76" fill="#c40000"/>
<rect x="495.00" y="99.82" width="9.00" height="8.76" fill="#b80000"/>
<rect x="495.00" y="91.36" width="9.00" height="8.76" fill="#aa0000"/>
<rect x="495.00" y="82.90" width="9.00" height="8.76" fill="#a00800"/>
<rect x="495.00" y="74.44" width="9.00" height="8.76" fill="#600f0a"/>
<rect x="495.00" y="65.98" width="9.00" height="8.76" fill="#600f0a"/>
<rect x="495.00" y="57.52" width="9.00" height="8.76" fill="#581414"/>
<rect x="495.00" y="49.06" width="9.00" height="8.76" fill="#581414"/>
<rect x="495.00" y="40.60" width="9.00" height="8.76" fill="#581414"/>
<line x1="504" y1="91.36" x2="506.3" y2="91.36" stroke="#000" stroke-width="0.9"/>
<text x="523.70" y="100.06" font-size="20.00" text-anchor="middle">196</text>
<line x1="504" y1="142.12" x2="506.3" y2="142.12" stroke="#000" stroke-width="0.9"/>
<text x="523.70" y="150.82" font-size="20.00" text-anchor="middle">208</text>
<line x1="504" y1="192.88" x2="506.3" y2="192.88" stroke="#000" stroke-width="0.9"/>
<text x="523.70" y="201.58" font-size="20.00" text-anchor="middle">220</text>
<line x1="504" y1="243.64" x2="506.3" y2="243.64" stroke="#000" stroke-width="0.9"/>
<text x="523.70" y="252.34" font-size="20.00" text-anchor="middle">232</text>
<line x1="504" y1="294.40" x2="506.3" y2="294.40" stroke="#000" stroke-width="0.9"/>
<text x="523.70" y="303.10" font-size="20.00" text-anchor="middle">244</text>
<line x1="504" y1="345.16" x2="506.3" y2="345.16" stroke="#000" stroke-width="0.9"/>
<text x="523.70" y="353.86" font-size="20.00" text-anchor="middle">256</text>
<line x1="504" y1="395.92" x2="506.3" y2="395.92" stroke="#000" stroke-width="0.9"/>
<text x="523.70" y="404.62" font-size="20.00" text-anchor="middle">268</text>
<line x1="504" y1="446.68" x2="506.3" y2="446.68" stroke="#000" stroke-width="0.9"/>
<text x="523.70" y="455.38" font-size="20.00" text-anchor="middle">280</text>
<line x1="504" y1="497.44" x2="506.3" y2="497.44" stroke="#000" stroke-width="0.9"/>
<text x="523.70" y="506.14" font-size="20.00" text-anchor="middle">292</text>
<line x1="504" y1="548.20" x2="506.3" y2="548.20" stroke="#000" stroke-width="0.9"/>
<text x="523.70" y="556.90" font-size="20.00" text-anchor="middle">304</text>
<text x="37.4" y="65.7" font-size="25">VIRS T</text><text x="118.2" y="71.3" font-size="14.5">B11</text><text x="152.8" y="65.7" font-size="25">(K)</text>
<text x="438.50" y="523.20" font-size="30.00" text-anchor="start">(g)</text>
</g>
<path d="M791.2,1253.3h2.8v2.4h-2.8z M796.8,1256.1h2.8v2.4h-2.8z M801.1,1259.0h2.8v2.4h-2.8z M804.6,1259.0h2.8v2.4h-2.8z M809.5,1261.1h2.8v2.4h-2.8z M813.1,1261.8h2.8v2.4h-2.8z M823.7,1261.1h2.8v2.4h-2.8z M827.9,1254.0h2.8v2.4h-2.8z M831.4,1255.4h2.8v2.4h-2.8z M839.2,1253.3h2.8v2.4h-2.8z M839.2,1259.0h2.8v2.4h-2.8z M847.7,1255.4h2.8v2.4h-2.8z M842.0,1225.8h2.8v2.4h-2.8z M845.5,1227.2h2.8v2.4h-2.8z M849.1,1227.9h2.8v2.4h-2.8z M854.7,1227.2h2.8v2.4h-2.8z M877.3,1220.9h2.8v2.4h-2.8z M887.2,1227.9h2.8v2.4h-2.8z M881.5,1234.3h2.8v2.4h-2.8z M895.6,1236.4h2.8v2.4h-2.8z M897.8,1240.6h2.8v2.4h-2.8z M900.6,1259.7h2.8v2.4h-2.8z M905.5,1263.9h2.8v2.4h-2.8z M907.6,1266.7h2.8v2.4h-2.8z M891.4,1271.0h2.8v2.4h-2.8z M919.6,1262.5h2.8v2.4h-2.8z M923.9,1223.0h2.8v2.4h-2.8z M924.6,1238.5h2.8v2.4h-2.8z M843.4,1273.1h2.8v2.4h-2.8z M849.8,1275.2h2.8v2.4h-2.8z M853.3,1278.7h2.8v2.4h-2.8z M866.0,1284.4h2.8v2.4h-2.8z M883.6,1282.3h2.8v2.4h-2.8z M861.8,1292.1h2.8v2.4h-2.8z M867.4,1293.6h2.8v2.4h-2.8z M798.2,1280.1h2.8v2.4h-2.8z M801.1,1280.9h2.8v2.4h-2.8z M803.9,1289.3h2.8v2.4h-2.8z M809.5,1290.7h2.8v2.4h-2.8z M782.0,1291.4h2.8v2.4h-2.8z M821.5,1291.4h2.8v2.4h-2.8z M810.2,1271.7h2.8v2.4h-2.8z M938.0,1230.7h2.8v2.4h-2.8z M950.7,1237.8h2.8v2.4h-2.8z M967.6,1223.0h2.8v2.4h-2.8z M976.1,1222.3h2.8v2.4h-2.8z M974.7,1228.6h2.8v2.4h-2.8z M918.2,1225.1h2.8v2.4h-2.8z M918.2,1245.6h2.8v2.4h-2.8z M939.4,1235.0h2.8v2.4h-2.8z M953.5,1238.5h2.8v2.4h-2.8z" fill="#ff4400"/>
<path d="M832.9,1223.1h4.0v3.6h-4.0z M835.8,1224.5h4.0v3.6h-4.0z M849.9,1230.8h4.0v3.6h-4.0z M842.1,1258.4h4.0v3.6h-4.0z M847.8,1261.2h4.0v3.6h-4.0z M858.3,1278.1h4.0v3.6h-4.0z M882.3,1240.7h4.0v3.6h-4.0z M890.8,1230.1h4.0v3.6h-4.0z M889.4,1234.4h4.0v3.6h-4.0z M892.2,1237.2h4.0v3.6h-4.0z M900.7,1247.8h4.0v3.6h-4.0z M916.2,1221.7h4.0v3.6h-4.0z M920.5,1225.9h4.0v3.6h-4.0z M916.2,1234.4h4.0v3.6h-4.0z M904.9,1235.8h4.0v3.6h-4.0z M925.4,1228.7h4.0v3.6h-4.0z M947.3,1220.3h4.0v3.6h-4.0z M968.5,1221.7h4.0v3.6h-4.0z M976.9,1225.9h4.0v3.6h-4.0z M984.0,1221.0h4.0v3.6h-4.0z M938.8,1227.3h4.0v3.6h-4.0z M943.0,1233.0h4.0v3.6h-4.0z M955.7,1239.3h4.0v3.6h-4.0z M902.1,1223.1h4.0v3.6h-4.0z M906.3,1221.7h4.0v3.6h-4.0z M909.2,1224.5h4.0v3.6h-4.0z M910.6,1228.7h4.0v3.6h-4.0z M907.8,1231.6h4.0v3.6h-4.0z M903.5,1227.3h4.0v3.6h-4.0z M916.2,1238.6h4.0v3.6h-4.0z M917.6,1241.4h4.0v3.6h-4.0z M919.0,1247.1h4.0v3.6h-4.0z M916.2,1248.5h4.0v3.6h-4.0z M920.5,1240.0h4.0v3.6h-4.0z M940.2,1231.6h4.0v3.6h-4.0z M944.5,1234.4h4.0v3.6h-4.0z M948.7,1236.5h4.0v3.6h-4.0z M951.5,1237.9h4.0v3.6h-4.0z M941.6,1235.8h4.0v3.6h-4.0z M926.1,1225.9h4.0v3.6h-4.0z M927.5,1229.4h4.0v3.6h-4.0z" fill="#0000ff"/>
<path d="M602.9,1397.5h2.4v2.2h-2.4z M612.4,1399.3h2.4v2.2h-2.4z M612.0,1401.8h2.4v2.2h-2.4z M603.1,1408.8h2.4v2.2h-2.4z M607.6,1408.0h2.4v2.2h-2.4z M616.7,1408.0h2.4v2.2h-2.4z M622.7,1406.4h2.4v2.2h-2.4z M623.0,1408.8h2.4v2.2h-2.4z M613.6,1410.7h2.4v2.2h-2.4z M615.5,1411.5h2.4v2.2h-2.4z M614.7,1416.3h2.4v2.2h-2.4z M612.8,1419.4h2.4v2.2h-2.4z M620.3,1418.2h2.4v2.2h-2.4z M626.6,1418.2h2.4v2.2h-2.4z M619.5,1422.2h2.4v2.2h-2.4z M606.4,1425.7h2.4v2.2h-2.4z M614.7,1438.8h2.4v2.2h-2.4z" fill="#ff4400"/>
<ellipse cx="909.8" cy="1228.4" rx="3.4" ry="2.8" fill="#0000ff"/>
<ellipse cx="920.3" cy="1244.6" rx="1.7" ry="3.4" fill="#0000ff"/>
<ellipse cx="947.9" cy="1236.9" rx="4.5" ry="2.3" fill="#0000ff"/>
<ellipse cx="919.6" cy="1225.6" rx="1.4" ry="1.7" fill="#0000ff"/>
<ellipse cx="928.1" cy="1229.8" rx="1.4" ry="1.4" fill="#0000ff"/>
<ellipse cx="969.0" cy="1224.2" rx="1.7" ry="1.1" fill="#0000ff"/>
<rect x="909.8" y="1228.4" width="3" height="2.5" fill="#ff4400"/>
<rect x="947.9" y="1236.9" width="3" height="2.5" fill="#ff4400"/>
<rect x="928.1" y="1229.8" width="3" height="2.5" fill="#ff4400"/>
<g transform="translate(590.50,1181.00)">
<line x1="89.50" y1="40.80" x2="89.50" y2="548.50" class="gv"/>
<line x1="168.20" y1="40.80" x2="168.20" y2="548.50" class="gv"/>
<line x1="246.90" y1="40.80" x2="246.90" y2="548.50" class="gv"/>
<line x1="325.60" y1="40.80" x2="325.60" y2="548.50" class="gv"/>
<line x1="404.30" y1="40.80" x2="404.30" y2="548.50" class="gv"/>
<line x1="483.00" y1="40.80" x2="483.00" y2="548.50" class="gv"/>
<line x1="13.00" y1="65.30" x2="486.00" y2="65.30" class="gh"/>
<line x1="13.00" y1="149.90" x2="486.00" y2="149.90" class="gh"/>
<line x1="13.00" y1="234.50" x2="486.00" y2="234.50" class="gh"/>
<line x1="13.00" y1="319.10" x2="486.00" y2="319.10" class="gh"/>
<line x1="13.00" y1="403.70" x2="486.00" y2="403.70" class="gh"/>
<line x1="13.00" y1="488.30" x2="486.00" y2="488.30" class="gh"/>
<path d="M13.00,185.70 L17.00,183.40 L21.00,181.09 L25.00,178.78 L29.00,176.47 L33.00,174.15 L37.00,171.83 L41.00,169.50 L45.00,167.17 L49.00,164.84 L53.00,162.50 L57.00,160.15 L61.00,157.81 L65.00,155.46 L69.00,153.10 L73.00,150.74 L77.00,148.38 L81.00,146.01 L85.00,143.64 L89.00,141.27 L93.00,138.89 L97.00,136.50 L101.00,134.12 L105.00,131.73 L109.00,129.33 L113.00,126.93 L117.00,124.53 L121.00,122.12 L125.00,119.71 L129.00,117.29 L133.00,114.87 L137.00,112.45 L141.00,110.02 L145.00,107.59 L149.00,105.15 L153.00,102.71 L157.00,100.27 L161.00,97.82 L165.00,95.37 L169.00,92.91 L173.00,90.45 L177.00,87.98 L181.00,85.52 L185.00,83.04 L189.00,80.57 L193.00,78.09 L197.00,75.60 L201.00,73.11 L205.00,70.62 L209.00,68.12 L213.00,65.62 L217.00,63.11 L221.00,60.61 L225.00,58.09 L229.00,55.57 L233.00,53.05 L237.00,50.53 L241.00,48.00 L245.00,45.46 L249.00,42.93 L252.35,40.80" class="sw"/>
<path d="M13.00,280.70 L17.00,278.40 L21.00,276.09 L25.00,273.78 L29.00,271.47 L33.00,269.15 L37.00,266.83 L41.00,264.50 L45.00,262.17 L49.00,259.84 L53.00,257.50 L57.00,255.15 L61.00,252.81 L65.00,250.46 L69.00,248.10 L73.00,245.74 L77.00,243.38 L81.00,241.01 L85.00,238.64 L89.00,236.27 L93.00,233.89 L97.00,231.50 L101.00,229.12 L105.00,226.73 L109.00,224.33 L113.00,221.93 L117.00,219.53 L121.00,217.12 L125.00,214.71 L129.00,212.29 L133.00,209.87 L137.00,207.45 L141.00,205.02 L145.00,202.59 L149.00,200.15 L153.00,197.71 L157.00,195.27 L161.00,192.82 L165.00,190.37 L169.00,187.91 L173.00,185.45 L177.00,182.98 L181.00,180.52 L185.00,178.04 L189.00,175.57 L193.00,173.09 L197.00,170.60 L201.00,168.11 L205.00,165.62 L209.00,163.12 L213.00,160.62 L217.00,158.11 L221.00,155.61 L225.00,153.09 L229.00,150.57 L233.00,148.05 L237.00,145.53 L241.00,143.00 L245.00,140.46 L249.00,137.93 L253.00,135.38 L257.00,132.84 L261.00,130.29 L265.00,127.73 L269.00,125.18 L273.00,122.61 L277.00,120.05 L281.00,117.48 L285.00,114.90 L289.00,112.33 L293.00,109.74 L297.00,107.16 L301.00,104.57 L305.00,101.97 L309.00,99.37 L313.00,96.77 L317.00,94.16 L321.00,91.55 L325.00,88.94 L329.00,86.32 L333.00,83.70 L337.00,81.07 L341.00,78.44 L345.00,75.80 L349.00,73.16 L353.00,70.52 L357.00,67.87 L361.00,65.22 L365.00,62.56 L369.00,59.90 L373.00,57.24 L377.00,54.57 L381.00,51.90 L385.00,49.23 L389.00,46.55 L393.00,43.86 L397.00,41.17 L397.55,40.80" class="sw"/>
<text x="89.50" y="297.90" font-size="12.00" text-anchor="middle">166</text>
<text x="168.20" y="297.90" font-size="12.00" text-anchor="middle">168</text>
<text x="246.90" y="297.90" font-size="12.00" text-anchor="middle">170</text>
<text x="325.60" y="297.90" font-size="12.00" text-anchor="middle">172</text>
<text x="404.30" y="297.90" font-size="12.00" text-anchor="middle">174</text>
<text x="483.00" y="297.90" font-size="12.00" text-anchor="middle">176</text>
<text x="258.00" y="65.80" font-size="12.00" text-anchor="start">-18</text>
<text x="258.00" y="150.40" font-size="12.00" text-anchor="start">-20</text>
<text x="258.00" y="235.00" font-size="12.00" text-anchor="start">-22</text>
<text x="258.00" y="319.60" font-size="12.00" text-anchor="start">-24</text>
<text x="258.00" y="404.20" font-size="12.00" text-anchor="start">-26</text>
<text x="258.00" y="488.80" font-size="12.00" text-anchor="start">-28</text>
<path d="M243.2,292.2h12.4v4.6h-12.4z M247.1,288.3h4.6v12.4h-4.6z" fill="#000"/>
<rect x="495.2" y="379.00" width="9.2" height="169.20" fill="#fff" stroke="#000" stroke-width="0.8"/>
<rect x="495.2" y="209.80" width="9.2" height="169.20" fill="#0000ff" stroke="#000" stroke-width="0.8"/>
<rect x="495.2" y="40.60" width="9.2" height="169.20" fill="#ff4400" stroke="#000" stroke-width="0.8"/>
<line x1="504.4" y1="40.60" x2="506.5" y2="40.60" stroke="#000" stroke-width="0.9"/>
<text x="507.60" y="48.90" font-size="20.00" text-anchor="start">Conv</text>
<line x1="504.4" y1="209.80" x2="506.5" y2="209.80" stroke="#000" stroke-width="0.9"/>
<text x="507.60" y="218.10" font-size="20.00" text-anchor="start">Strat</text>
<line x1="504.4" y1="379.00" x2="506.5" y2="379.00" stroke="#000" stroke-width="0.9"/>
<text x="507.60" y="387.30" font-size="20.00" text-anchor="start">N/A</text>
<text x="37.00" y="65.70" font-size="25.00" text-anchor="start">2A23 rain types</text>
<text x="438.50" y="523.20" font-size="30.00" text-anchor="start">(h)</text>
</g>
<path d="M1381.9,1253.5h2.4v2.0h-2.4z M1387.5,1256.3h2.4v2.0h-2.4z M1391.8,1259.2h2.4v2.0h-2.4z M1395.3,1259.2h2.4v2.0h-2.4z M1400.2,1261.3h2.4v2.0h-2.4z M1403.8,1262.0h2.4v2.0h-2.4z M1414.4,1261.3h2.4v2.0h-2.4z M1418.6,1254.2h2.4v2.0h-2.4z M1422.1,1255.6h2.4v2.0h-2.4z M1429.9,1253.5h2.4v2.0h-2.4z M1429.9,1259.2h2.4v2.0h-2.4z M1438.4,1255.6h2.4v2.0h-2.4z M1432.7,1226.0h2.4v2.0h-2.4z M1436.2,1227.4h2.4v2.0h-2.4z M1439.8,1228.1h2.4v2.0h-2.4z M1445.4,1227.4h2.4v2.0h-2.4z M1468.0,1221.1h2.4v2.0h-2.4z M1477.9,1228.1h2.4v2.0h-2.4z M1472.2,1234.5h2.4v2.0h-2.4z M1486.3,1236.6h2.4v2.0h-2.4z M1488.5,1240.8h2.4v2.0h-2.4z M1491.3,1259.9h2.4v2.0h-2.4z M1496.2,1264.1h2.4v2.0h-2.4z M1498.3,1266.9h2.4v2.0h-2.4z M1482.1,1271.2h2.4v2.0h-2.4z M1510.3,1262.7h2.4v2.0h-2.4z M1514.6,1223.2h2.4v2.0h-2.4z M1515.3,1238.7h2.4v2.0h-2.4z M1434.1,1273.3h2.4v2.0h-2.4z M1440.5,1275.4h2.4v2.0h-2.4z M1444.0,1278.9h2.4v2.0h-2.4z M1456.7,1284.6h2.4v2.0h-2.4z M1474.3,1282.5h2.4v2.0h-2.4z M1452.5,1292.3h2.4v2.0h-2.4z M1458.1,1293.8h2.4v2.0h-2.4z M1388.9,1280.3h2.4v2.0h-2.4z M1391.8,1281.1h2.4v2.0h-2.4z M1394.6,1289.5h2.4v2.0h-2.4z M1400.2,1290.9h2.4v2.0h-2.4z M1372.7,1291.6h2.4v2.0h-2.4z M1412.2,1291.6h2.4v2.0h-2.4z M1400.9,1271.9h2.4v2.0h-2.4z M1528.7,1230.9h2.4v2.0h-2.4z M1541.4,1238.0h2.4v2.0h-2.4z M1558.3,1223.2h2.4v2.0h-2.4z M1566.8,1222.5h2.4v2.0h-2.4z M1565.4,1228.8h2.4v2.0h-2.4z M1508.9,1225.3h2.4v2.0h-2.4z M1508.9,1245.8h2.4v2.0h-2.4z M1530.1,1235.2h2.4v2.0h-2.4z M1544.2,1238.7h2.4v2.0h-2.4z" fill="#d8d8d8"/>
<path d="M1423.9,1223.6h3.0v2.6h-3.0z M1426.8,1225.0h3.0v2.6h-3.0z M1440.9,1231.3h3.0v2.6h-3.0z M1433.1,1258.9h3.0v2.6h-3.0z M1438.8,1261.7h3.0v2.6h-3.0z M1449.3,1278.6h3.0v2.6h-3.0z M1473.3,1241.2h3.0v2.6h-3.0z M1481.8,1230.6h3.0v2.6h-3.0z M1480.4,1234.9h3.0v2.6h-3.0z M1483.2,1237.7h3.0v2.6h-3.0z M1491.7,1248.3h3.0v2.6h-3.0z" fill="#c4c4c4"/>
<path d="M1506.9,1221.9h3.6v3.2h-3.6z M1511.2,1226.1h3.6v3.2h-3.6z M1506.9,1234.6h3.6v3.2h-3.6z M1495.6,1236.0h3.6v3.2h-3.6z M1516.1,1228.9h3.6v3.2h-3.6z M1538.0,1220.5h3.6v3.2h-3.6z M1559.2,1221.9h3.6v3.2h-3.6z M1567.6,1226.1h3.6v3.2h-3.6z M1574.7,1221.2h3.6v3.2h-3.6z M1529.5,1227.5h3.6v3.2h-3.6z M1533.7,1233.2h3.6v3.2h-3.6z M1546.4,1239.5h3.6v3.2h-3.6z M1492.8,1223.3h3.6v3.2h-3.6z M1497.0,1221.9h3.6v3.2h-3.6z M1499.9,1224.7h3.6v3.2h-3.6z M1501.3,1228.9h3.6v3.2h-3.6z M1498.5,1231.8h3.6v3.2h-3.6z M1494.2,1227.5h3.6v3.2h-3.6z M1506.9,1238.8h3.6v3.2h-3.6z M1508.3,1241.6h3.6v3.2h-3.6z M1509.7,1247.3h3.6v3.2h-3.6z M1506.9,1248.7h3.6v3.2h-3.6z M1511.2,1240.2h3.6v3.2h-3.6z M1530.9,1231.8h3.6v3.2h-3.6z M1535.2,1234.6h3.6v3.2h-3.6z M1539.4,1236.7h3.6v3.2h-3.6z M1542.2,1238.1h3.6v3.2h-3.6z M1532.3,1236.0h3.6v3.2h-3.6z M1516.8,1226.1h3.6v3.2h-3.6z M1518.2,1229.6h3.6v3.2h-3.6z" fill="#78d078"/>
<path d="M1193.4,1397.5h2.4v2.2h-2.4z M1202.9,1399.3h2.4v2.2h-2.4z M1202.5,1401.8h2.4v2.2h-2.4z M1193.6,1408.8h2.4v2.2h-2.4z M1198.1,1408.0h2.4v2.2h-2.4z M1207.2,1408.0h2.4v2.2h-2.4z M1213.2,1406.4h2.4v2.2h-2.4z M1213.5,1408.8h2.4v2.2h-2.4z M1204.1,1410.7h2.4v2.2h-2.4z M1206.0,1411.5h2.4v2.2h-2.4z M1205.2,1416.3h2.4v2.2h-2.4z M1203.3,1419.4h2.4v2.2h-2.4z M1210.8,1418.2h2.4v2.2h-2.4z M1217.1,1418.2h2.4v2.2h-2.4z M1210.0,1422.2h2.4v2.2h-2.4z M1196.9,1425.7h2.4v2.2h-2.4z M1205.2,1438.8h2.4v2.2h-2.4z" fill="#e0e0e0"/>
<ellipse cx="1500.3" cy="1228.4" rx="3.4" ry="2.8" fill="#78d078"/>
<ellipse cx="1510.8" cy="1244.6" rx="1.7" ry="3.4" fill="#78d078"/>
<ellipse cx="1538.4" cy="1236.9" rx="4.5" ry="2.3" fill="#78d078"/>
<ellipse cx="1510.1" cy="1225.6" rx="1.4" ry="1.7" fill="#78d078"/>
<ellipse cx="1518.6" cy="1229.8" rx="1.4" ry="1.4" fill="#78d078"/>
<ellipse cx="1559.5" cy="1224.2" rx="1.7" ry="1.1" fill="#78d078"/>
<rect x="1500.3" y="1228.4" width="3" height="3" fill="#88bbff"/>
<rect x="1510.8" y="1244.6" width="3" height="3" fill="#88bbff"/>
<g transform="translate(1181.00,1181.00)">
<line x1="89.50" y1="40.80" x2="89.50" y2="548.50" class="gv"/>
<line x1="168.20" y1="40.80" x2="168.20" y2="548.50" class="gv"/>
<line x1="246.90" y1="40.80" x2="246.90" y2="548.50" class="gv"/>
<line x1="325.60" y1="40.80" x2="325.60" y2="548.50" class="gv"/>
<line x1="404.30" y1="40.80" x2="404.30" y2="548.50" class="gv"/>
<line x1="483.00" y1="40.80" x2="483.00" y2="548.50" class="gv"/>
<line x1="13.00" y1="65.30" x2="486.00" y2="65.30" class="gh"/>
<line x1="13.00" y1="149.90" x2="486.00" y2="149.90" class="gh"/>
<line x1="13.00" y1="234.50" x2="486.00" y2="234.50" class="gh"/>
<line x1="13.00" y1="319.10" x2="486.00" y2="319.10" class="gh"/>
<line x1="13.00" y1="403.70" x2="486.00" y2="403.70" class="gh"/>
<line x1="13.00" y1="488.30" x2="486.00" y2="488.30" class="gh"/>
<path d="M13.00,185.70 L17.00,183.40 L21.00,181.09 L25.00,178.78 L29.00,176.47 L33.00,174.15 L37.00,171.83 L41.00,169.50 L45.00,167.17 L49.00,164.84 L53.00,162.50 L57.00,160.15 L61.00,157.81 L65.00,155.46 L69.00,153.10 L73.00,150.74 L77.00,148.38 L81.00,146.01 L85.00,143.64 L89.00,141.27 L93.00,138.89 L97.00,136.50 L101.00,134.12 L105.00,131.73 L109.00,129.33 L113.00,126.93 L117.00,124.53 L121.00,122.12 L125.00,119.71 L129.00,117.29 L133.00,114.87 L137.00,112.45 L141.00,110.02 L145.00,107.59 L149.00,105.15 L153.00,102.71 L157.00,100.27 L161.00,97.82 L165.00,95.37 L169.00,92.91 L173.00,90.45 L177.00,87.98 L181.00,85.52 L185.00,83.04 L189.00,80.57 L193.00,78.09 L197.00,75.60 L201.00,73.11 L205.00,70.62 L209.00,68.12 L213.00,65.62 L217.00,63.11 L221.00,60.61 L225.00,58.09 L229.00,55.57 L233.00,53.05 L237.00,50.53 L241.00,48.00 L245.00,45.46 L249.00,42.93 L252.35,40.80" class="sw"/>
<path d="M13.00,280.70 L17.00,278.40 L21.00,276.09 L25.00,273.78 L29.00,271.47 L33.00,269.15 L37.00,266.83 L41.00,264.50 L45.00,262.17 L49.00,259.84 L53.00,257.50 L57.00,255.15 L61.00,252.81 L65.00,250.46 L69.00,248.10 L73.00,245.74 L77.00,243.38 L81.00,241.01 L85.00,238.64 L89.00,236.27 L93.00,233.89 L97.00,231.50 L101.00,229.12 L105.00,226.73 L109.00,224.33 L113.00,221.93 L117.00,219.53 L121.00,217.12 L125.00,214.71 L129.00,212.29 L133.00,209.87 L137.00,207.45 L141.00,205.02 L145.00,202.59 L149.00,200.15 L153.00,197.71 L157.00,195.27 L161.00,192.82 L165.00,190.37 L169.00,187.91 L173.00,185.45 L177.00,182.98 L181.00,180.52 L185.00,178.04 L189.00,175.57 L193.00,173.09 L197.00,170.60 L201.00,168.11 L205.00,165.62 L209.00,163.12 L213.00,160.62 L217.00,158.11 L221.00,155.61 L225.00,153.09 L229.00,150.57 L233.00,148.05 L237.00,145.53 L241.00,143.00 L245.00,140.46 L249.00,137.93 L253.00,135.38 L257.00,132.84 L261.00,130.29 L265.00,127.73 L269.00,125.18 L273.00,122.61 L277.00,120.05 L281.00,117.48 L285.00,114.90 L289.00,112.33 L293.00,109.74 L297.00,107.16 L301.00,104.57 L305.00,101.97 L309.00,99.37 L313.00,96.77 L317.00,94.16 L321.00,91.55 L325.00,88.94 L329.00,86.32 L333.00,83.70 L337.00,81.07 L341.00,78.44 L345.00,75.80 L349.00,73.16 L353.00,70.52 L357.00,67.87 L361.00,65.22 L365.00,62.56 L369.00,59.90 L373.00,57.24 L377.00,54.57 L381.00,51.90 L385.00,49.23 L389.00,46.55 L393.00,43.86 L397.00,41.17 L397.55,40.80" class="sw"/>
<text x="89.50" y="297.90" font-size="12.00" text-anchor="middle">166</text>
<text x="168.20" y="297.90" font-size="12.00" text-anchor="middle">168</text>
<text x="246.90" y="297.90" font-size="12.00" text-anchor="middle">170</text>
<text x="325.60" y="297.90" font-size="12.00" text-anchor="middle">172</text>
<text x="404.30" y="297.90" font-size="12.00" text-anchor="middle">174</text>
<text x="483.00" y="297.90" font-size="12.00" text-anchor="middle">176</text>
<text x="258.00" y="65.80" font-size="12.00" text-anchor="start">-18</text>
<text x="258.00" y="150.40" font-size="12.00" text-anchor="start">-20</text>
<text x="258.00" y="235.00" font-size="12.00" text-anchor="start">-22</text>
<text x="258.00" y="319.60" font-size="12.00" text-anchor="start">-24</text>
<text x="258.00" y="404.20" font-size="12.00" text-anchor="start">-26</text>
<text x="258.00" y="488.80" font-size="12.00" text-anchor="start">-28</text>
<path d="M243.2,292.2h12.4v4.6h-12.4z M247.1,288.3h4.6v12.4h-4.6z" fill="#000"/>
<rect x="495.00" y="531.28" width="9.00" height="8.76" fill="#f4f4f4"/>
<rect x="495.00" y="522.82" width="9.00" height="8.76" fill="#ececec"/>
<rect x="495.00" y="514.36" width="9.00" height="8.76" fill="#e4e4e4"/>
<rect x="495.00" y="505.90" width="9.00" height="8.76" fill="#dcdcdc"/>
<rect x="495.00" y="497.44" width="9.00" height="8.76" fill="#d5d5d5"/>
<rect x="495.00" y="488.98" width="9.00" height="8.76" fill="#cdcdcd"/>
<rect x="495.00" y="480.52" width="9.00" height="8.76" fill="#c5c5c5"/>
<rect x="495.00" y="472.06" width="9.00" height="8.76" fill="#bdbdbd"/>
<rect x="495.00" y="463.60" width="9.00" height="8.76" fill="#b5b5b5"/>
<rect x="495.00" y="455.14" width="9.00" height="8.76" fill="#adadad"/>
<rect x="495.00" y="446.68" width="9.00" height="8.76" fill="#a6a6a6"/>
<rect x="495.00" y="438.22" width="9.00" height="8.76" fill="#9e9e9e"/>
<rect x="495.00" y="429.76" width="9.00" height="8.76" fill="#969696"/>
<rect x="495.00" y="421.30" width="9.00" height="8.76" fill="#8e8e8e"/>
<rect x="495.00" y="412.84" width="9.00" height="8.76" fill="#80e080"/>
<rect x="495.00" y="404.38" width="9.00" height="8.76" fill="#78d878"/>
<rect x="495.00" y="395.92" width="9.00" height="8.76" fill="#70cc70"/>
<rect x="495.00" y="387.46" width="9.00" height="8.76" fill="#68c068"/>
<rect x="495.00" y="379.00" width="9.00" height="8.76" fill="#66bb66"/>
<rect x="495.00" y="370.54" width="9.00" height="8.76" fill="#d0d8ff"/>
<rect x="495.00" y="362.08" width="9.00" height="8.76" fill="#b0ccff"/>
<rect x="495.00" y="353.62" width="9.00" height="8.76" fill="#99c8ff"/>
<rect x="495.00" y="345.16" width="9.00" height="8.76" fill="#80c0ff"/>
<rect x="495.00" y="336.70" width="9.00" height="8.76" fill="#66b4ff"/>
<rect x="495.00" y="328.24" width="9.00" height="8.76" fill="#4aaaff"/>
<rect x="495.00" y="319.78" width="9.00" height="8.76" fill="#4488ff"/>
<rect x="495.00" y="311.32" width="9.00" height="8.76" fill="#4466ff"/>
<rect x="495.00" y="302.86" width="9.00" height="8.76" fill="#3a3aff"/>
<rect x="495.00" y="294.40" width="9.00" height="8.76" fill="#2a2aff"/>
<rect x="495.00" y="285.94" width="9.00" height="8.76" fill="#0000ff"/>
<rect x="495.00" y="277.48" width="9.00" height="8.76" fill="#0000f0"/>
<rect x="495.00" y="269.02" width="9.00" height="8.76" fill="#0000e4"/>
<rect x="495.00" y="260.56" width="9.00" height="8.76" fill="#0000d8"/>
<rect x="495.00" y="252.10" width="9.00" height="8.76" fill="#0000cc"/>
<rect x="495.00" y="243.64" width="9.00" height="8.76" fill="#ffff00"/>
<rect x="495.00" y="235.18" width="9.00" height="8.76" fill="#fff200"/>
<rect x="495.00" y="226.72" width="9.00" height="8.76" fill="#ffe800"/>
<rect x="495.00" y="218.26" width="9.00" height="8.76" fill="#ffdd00"/>
<rect x="495.00" y="209.80" width="9.00" height="8.76" fill="#ffd000"/>
<rect x="495.00" y="201.34" width="9.00" height="8.76" fill="#ff8800"/>
<rect x="495.00" y="192.88" width="9.00" height="8.76" fill="#ff8000"/>
<rect x="495.00" y="184.42" width="9.00" height="8.76" fill="#ff7a00"/>
<rect x="495.00" y="175.96" width="9.00" height="8.76" fill="#ff7400"/>
<rect x="495.00" y="167.50" width="9.00" height="8.76" fill="#ff6e00"/>
<rect x="495.00" y="159.04" width="9.00" height="8.76" fill="#ff4400"/>
<rect x="495.00" y="150.58" width="9.00" height="8.76" fill="#ff3a00"/>
<rect x="495.00" y="142.12" width="9.00" height="8.76" fill="#ff3300"/>
<rect x="495.00" y="133.66" width="9.00" height="8.76" fill="#ff2200"/>
<rect x="495.00" y="125.20" width="9.00" height="8.76" fill="#ff1100"/>
<rect x="495.00" y="116.74" width="9.00" height="8.76" fill="#cc0000"/>
<rect x="495.00" y="108.28" width="9.00" height="8.76" fill="#c40000"/>
<rect x="495.00" y="99.82" width="9.00" height="8.76" fill="#b80000"/>
<rect x="495.00" y="91.36" width="9.00" height="8.76" fill="#aa0000"/>
<rect x="495.00" y="82.90" width="9.00" height="8.76" fill="#a00800"/>
<rect x="495.00" y="74.44" width="9.00" height="8.76" fill="#600f0a"/>
<rect x="495.00" y="65.98" width="9.00" height="8.76" fill="#600f0a"/>
<rect x="495.00" y="57.52" width="9.00" height="8.76" fill="#581414"/>
<rect x="495.00" y="49.06" width="9.00" height="8.76" fill="#581414"/>
<rect x="495.00" y="40.60" width="9.00" height="8.76" fill="#581414"/>
<line x1="504" y1="91.36" x2="506.3" y2="91.36" stroke="#000" stroke-width="0.9"/>
<text x="532.20" y="100.06" font-size="20.00" text-anchor="middle">18.0</text>
<line x1="504" y1="142.12" x2="506.3" y2="142.12" stroke="#000" stroke-width="0.9"/>
<text x="532.20" y="150.82" font-size="20.00" text-anchor="middle">16.0</text>
<line x1="504" y1="192.88" x2="506.3" y2="192.88" stroke="#000" stroke-width="0.9"/>
<text x="532.20" y="201.58" font-size="20.00" text-anchor="middle">14.0</text>
<line x1="504" y1="243.64" x2="506.3" y2="243.64" stroke="#000" stroke-width="0.9"/>
<text x="532.20" y="252.34" font-size="20.00" text-anchor="middle">12.0</text>
<line x1="504" y1="294.40" x2="506.3" y2="294.40" stroke="#000" stroke-width="0.9"/>
<text x="532.20" y="303.10" font-size="20.00" text-anchor="middle">10.0</text>
<line x1="504" y1="345.16" x2="506.3" y2="345.16" stroke="#000" stroke-width="0.9"/>
<text x="532.20" y="353.86" font-size="20.00" text-anchor="middle">8.0</text>
<line x1="504" y1="395.92" x2="506.3" y2="395.92" stroke="#000" stroke-width="0.9"/>
<text x="532.20" y="404.62" font-size="20.00" text-anchor="middle">6.0</text>
<line x1="504" y1="446.68" x2="506.3" y2="446.68" stroke="#000" stroke-width="0.9"/>
<text x="532.20" y="455.38" font-size="20.00" text-anchor="middle">4.0</text>
<line x1="504" y1="497.44" x2="506.3" y2="497.44" stroke="#000" stroke-width="0.9"/>
<text x="532.20" y="506.14" font-size="20.00" text-anchor="middle">2.0</text>
<line x1="504" y1="548.20" x2="506.3" y2="548.20" stroke="#000" stroke-width="0.9"/>
<text x="532.20" y="556.90" font-size="20.00" text-anchor="middle">0.0</text>
<text x="37.00" y="65.70" font-size="25.00" text-anchor="start">2A23 storm height (km)</text>
<text x="438.50" y="523.20" font-size="30.00" text-anchor="start">(i)</text>
</g>
</svg></body></html>
